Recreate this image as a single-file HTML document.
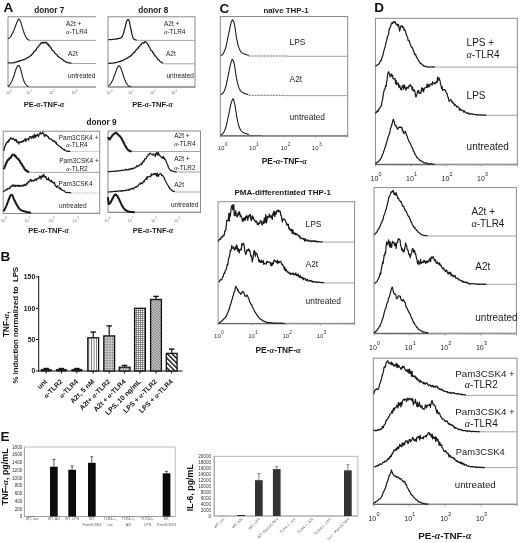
<!DOCTYPE html>
<html><head><meta charset="utf-8"><style>
html,body{margin:0;padding:0;background:#fff;}
svg{display:block;font-family:"Liberation Sans", sans-serif;filter:blur(0.35px);}
</style></head><body>
<svg width="520" height="543" viewBox="0 0 520 543">
<rect width="520" height="543" fill="#fff"/>
<text x="3.4" y="11.6" font-size="13.5" font-weight="bold" text-anchor="start" fill="#111" >A</text>
<text x="0.6" y="260.5" font-size="13.5" font-weight="bold" text-anchor="start" fill="#111" >B</text>
<text x="219.6" y="12.8" font-size="13.5" font-weight="bold" text-anchor="start" fill="#111" >C</text>
<text x="374.2" y="12.0" font-size="13.5" font-weight="bold" text-anchor="start" fill="#111" >D</text>
<text x="0.6" y="441.3" font-size="13.5" font-weight="bold" text-anchor="start" fill="#111" >E</text>
<text x="49.2" y="12.7" font-size="8.2" font-weight="bold" text-anchor="middle" fill="#1a1a1a" >donor 7</text>
<line x1="8.0" y1="16.8" x2="96.0" y2="16.8" stroke="#8a8a8a" stroke-width="1.1" />
<line x1="8.0" y1="16.8" x2="8.0" y2="87.0" stroke="#8a8a8a" stroke-width="1.0" />
<line x1="8.0" y1="87.0" x2="96.0" y2="87.0" stroke="#8a8a8a" stroke-width="1.2" />
<path d="M7.80,38.72 L8.30,38.57 L8.80,38.28 L9.30,37.99 L9.80,37.60 L10.30,36.96 L10.80,36.31 L11.30,35.69 L11.80,34.72 L12.30,33.78 L12.80,32.86 L13.30,31.67 L13.80,30.46 L14.30,29.09 L14.80,27.98 L15.30,26.80 L15.80,25.11 L16.30,24.00 L16.80,22.54 L17.30,21.58 L17.80,20.49 L18.30,19.95 L18.80,19.15 L19.30,19.44 L19.80,19.91 L20.30,20.91 L20.80,21.79 L21.30,23.84 L21.80,25.65 L22.30,27.46 L22.80,28.90 L23.30,30.66 L23.80,32.05 L24.30,33.45 L24.80,34.92 L25.30,35.85 L25.80,37.01 L26.30,37.96 L26.80,38.51 L27.30,38.99 L27.80,39.46 L28.30,39.78 L28.80,39.95 L29.30,40.08 L29.80,40.21 L30.30,40.17" fill="none" stroke="#1a1a1a" stroke-width="1.08" stroke-linejoin="round"/>
<line x1="30.6" y1="40.4" x2="96.0" y2="40.4" stroke="#999" stroke-width="0.9"/>
<path d="M7.80,62.80 L8.30,62.75 L8.80,62.71 L9.30,62.99 L9.80,62.91 L10.30,62.77 L10.80,62.91 L11.30,62.99 L11.80,62.95 L12.30,62.99 L12.80,62.85 L13.30,62.80 L13.80,62.77 L14.30,62.42 L14.80,62.40 L15.30,62.20 L15.80,62.16 L16.30,61.86 L16.80,61.80 L17.30,61.71 L17.80,61.71 L18.30,61.59 L18.80,61.03 L19.30,60.95 L19.80,61.04 L20.30,60.39 L20.80,60.51 L21.30,60.41 L21.80,60.51 L22.30,60.23 L22.80,59.84 L23.30,59.66 L23.80,59.51 L24.30,59.73 L24.80,59.12 L25.30,58.97 L25.80,58.92 L26.30,58.55 L26.80,58.23 L27.30,57.66 L27.80,57.62 L28.30,57.18 L28.80,57.30 L29.30,56.84 L29.80,56.31 L30.30,56.18 L30.80,55.46 L31.30,55.44 L31.80,54.60 L32.30,54.30 L32.80,53.15 L33.30,53.21 L33.80,51.90 L34.30,51.12 L34.80,51.10 L35.30,50.18 L35.80,49.94 L36.30,50.14 L36.80,48.17 L37.30,47.57 L37.80,47.27 L38.30,46.73 L38.80,45.77 L39.30,45.10 L39.80,44.88 L40.30,44.21 L40.80,43.01 L41.30,43.22 L41.80,43.10 L42.30,42.38 L42.80,42.89 L43.30,42.22 L43.80,43.07 L44.30,42.62 L44.80,42.53 L45.30,42.30 L45.80,42.81 L46.30,42.27 L46.80,43.09 L47.30,44.24 L47.80,43.49 L48.30,45.40 L48.80,44.68 L49.30,46.35 L49.80,46.16 L50.30,47.49 L50.80,47.85 L51.30,47.78 L51.80,49.61 L52.30,50.32 L52.80,50.35 L53.30,50.92 L53.80,51.62 L54.30,51.97 L54.80,53.36 L55.30,53.36 L55.80,54.06 L56.30,54.30 L56.80,54.85 L57.30,55.13 L57.80,56.40 L58.30,56.42 L58.80,57.15 L59.30,57.25 L59.80,57.43 L60.30,57.90 L60.80,58.21 L61.30,58.73 L61.80,59.02 L62.30,59.43 L62.80,59.59 L63.30,60.11 L63.80,60.97 L64.30,60.90 L64.80,61.16 L65.30,61.65 L65.80,62.05 L66.30,61.91 L66.80,62.33 L67.30,62.50 L67.80,62.55 L68.30,62.89 L68.80,62.89 L69.30,62.97 L69.80,62.98 L70.30,63.15 L70.80,63.15 L71.30,63.25 L71.80,63.23" fill="none" stroke="#1a1a1a" stroke-width="1.22" stroke-linejoin="round"/>
<line x1="72.2" y1="63.5" x2="96.0" y2="63.5" stroke="#999" stroke-width="0.9"/>
<path d="M7.80,86.34 L8.30,86.16 L8.80,85.73 L9.30,85.39 L9.80,84.80 L10.30,84.02 L10.80,83.05 L11.30,82.17 L11.80,81.12 L12.30,80.01 L12.80,78.78 L13.30,77.55 L13.80,76.16 L14.30,74.69 L14.80,72.99 L15.30,71.15 L15.80,69.80 L16.30,68.44 L16.80,67.18 L17.30,66.41 L17.80,65.78 L18.30,65.47 L18.80,65.58 L19.30,65.81 L19.80,67.07 L20.30,68.02 L20.80,69.99 L21.30,71.72 L21.80,73.68 L22.30,75.82 L22.80,77.66 L23.30,79.11 L23.80,80.55 L24.30,82.03 L24.80,82.94 L25.30,83.78 L25.80,84.49 L26.30,85.05 L26.80,85.57 L27.30,86.03 L27.80,86.24 L28.30,86.45 L28.80,86.60" fill="none" stroke="#1a1a1a" stroke-width="1.08" stroke-linejoin="round"/>
<line x1="29.1" y1="87.0" x2="96.0" y2="87.0" stroke="#999" stroke-width="0.9"/>
<text x="66.0" y="26.2" font-size="6.5" text-anchor="start" fill="#1a1a1a" >A2t +</text>
<text x="66.0" y="34.0" font-size="6.5" text-anchor="start" fill="#1a1a1a" ><tspan font-family="Liberation Serif" font-style="italic">&#945;</tspan>-TLR4</text>
<text x="68.0" y="55.8" font-size="6.5" text-anchor="start" fill="#1a1a1a" >A2t</text>
<text x="68.0" y="78.2" font-size="6.5" text-anchor="start" fill="#1a1a1a" >untreated</text>
<text x="8.2" y="94.0" font-size="3.8" fill="#777" text-anchor="middle">10</text>
<text x="10.5" y="91.6" font-size="2.8" fill="#777">0</text>
<text x="28.0" y="94.0" font-size="3.8" fill="#777" text-anchor="middle">10</text>
<text x="30.3" y="91.6" font-size="2.8" fill="#777">1</text>
<text x="51.0" y="94.0" font-size="3.8" fill="#777" text-anchor="middle">10</text>
<text x="53.3" y="91.6" font-size="2.8" fill="#777">2</text>
<text x="73.5" y="94.0" font-size="3.8" fill="#777" text-anchor="middle">10</text>
<text x="75.8" y="91.6" font-size="2.8" fill="#777">3</text>
<text x="44.0" y="107.3" font-size="7.5" font-weight="bold" text-anchor="middle" fill="#1a1a1a" >PE-<tspan font-family="Liberation Serif" font-style="italic">&#945;</tspan>-TNF-<tspan font-family="Liberation Serif" font-style="italic">&#945;</tspan></text>
<text x="153.2" y="12.7" font-size="8.2" font-weight="bold" text-anchor="middle" fill="#1a1a1a" >donor 8</text>
<rect x="108.0" y="16.8" width="87.0" height="70.2" fill="none" stroke="#8a8a8a" stroke-width="1.0" />
<line x1="108.0" y1="87.0" x2="195.0" y2="87.0" stroke="#8a8a8a" stroke-width="1.2" />
<path d="M108.30,39.53 L108.80,39.47 L109.30,39.59 L109.80,39.52 L110.30,39.46 L110.80,39.64 L111.30,39.59 L111.80,39.63 L112.30,39.47 L112.80,39.44 L113.30,39.31 L113.80,39.23 L114.30,39.25 L114.80,39.06 L115.30,39.10 L115.80,39.01 L116.30,39.12 L116.80,38.63 L117.30,38.82 L117.80,38.60 L118.30,38.52 L118.80,38.24 L119.30,38.28 L119.80,38.35 L120.30,38.09 L120.80,37.83 L121.30,37.35 L121.80,37.10 L122.30,36.40 L122.80,35.13 L123.30,34.21 L123.80,32.25 L124.30,29.94 L124.80,28.56 L125.30,26.82 L125.80,24.27 L126.30,22.09 L126.80,20.86 L127.30,20.48 L127.80,19.47 L128.30,19.44 L128.80,20.23 L129.30,21.64 L129.80,23.86 L130.30,26.17 L130.80,28.64 L131.30,30.86 L131.80,33.65 L132.30,35.33 L132.80,37.27 L133.30,38.12 L133.80,39.04 L134.30,39.47 L134.80,39.51 L135.30,39.89 L135.80,40.01 L136.30,40.02 L136.80,40.20" fill="none" stroke="#1a1a1a" stroke-width="1.22" stroke-linejoin="round"/>
<line x1="136.8" y1="40.4" x2="195.0" y2="40.4" stroke="#999" stroke-width="0.9"/>
<path d="M108.30,63.51 L108.80,63.25 L109.30,63.43 L109.80,63.36 L110.30,63.32 L110.80,63.18 L111.30,63.20 L111.80,63.16 L112.30,63.24 L112.80,63.11 L113.30,63.03 L113.80,63.11 L114.30,62.80 L114.80,62.69 L115.30,62.40 L115.80,62.70 L116.30,62.51 L116.80,62.38 L117.30,62.23 L117.80,62.04 L118.30,61.92 L118.80,61.70 L119.30,61.54 L119.80,61.42 L120.30,61.52 L120.80,61.19 L121.30,60.91 L121.80,60.65 L122.30,60.47 L122.80,60.74 L123.30,60.30 L123.80,59.96 L124.30,59.62 L124.80,59.19 L125.30,59.18 L125.80,59.16 L126.30,58.60 L126.80,58.39 L127.30,58.12 L127.80,57.90 L128.30,57.08 L128.80,57.10 L129.30,56.56 L129.80,56.71 L130.30,55.85 L130.80,55.91 L131.30,55.81 L131.80,54.74 L132.30,54.11 L132.80,53.83 L133.30,53.22 L133.80,52.30 L134.30,52.30 L134.80,52.39 L135.30,51.00 L135.80,50.52 L136.30,49.67 L136.80,49.68 L137.30,48.39 L137.80,47.77 L138.30,48.15 L138.80,46.50 L139.30,46.74 L139.80,46.31 L140.30,45.06 L140.80,44.55 L141.30,44.73 L141.80,43.29 L142.30,42.89 L142.80,42.33 L143.30,42.85 L143.80,43.38 L144.30,42.87 L144.80,41.66 L145.30,41.65 L145.80,41.94 L146.30,42.60 L146.80,42.79 L147.30,43.63 L147.80,44.50 L148.30,45.04 L148.80,45.99 L149.30,46.94 L149.80,47.65 L150.30,48.75 L150.80,50.17 L151.30,50.44 L151.80,51.01 L152.30,51.09 L152.80,52.62 L153.30,52.52 L153.80,53.47 L154.30,54.97 L154.80,55.59 L155.30,55.97 L155.80,56.14 L156.30,57.18 L156.80,57.73 L157.30,58.68 L157.80,59.62 L158.30,59.65 L158.80,59.93 L159.30,60.37 L159.80,61.09 L160.30,61.54 L160.80,61.79 L161.30,62.30 L161.80,62.42 L162.30,62.95 L162.80,63.20 L163.30,63.38" fill="none" stroke="#1a1a1a" stroke-width="1.22" stroke-linejoin="round"/>
<line x1="163.7" y1="63.8" x2="195.0" y2="63.8" stroke="#999" stroke-width="0.9"/>
<path d="M108.30,85.67 L108.80,85.47 L109.30,85.10 L109.80,84.74 L110.30,84.30 L110.80,83.59 L111.30,82.71 L111.80,81.86 L112.30,80.78 L112.80,79.73 L113.30,78.61 L113.80,77.04 L114.30,75.80 L114.80,74.57 L115.30,73.24 L115.80,71.75 L116.30,70.51 L116.80,69.05 L117.30,67.70 L117.80,66.75 L118.30,66.29 L118.80,65.93 L119.30,65.66 L119.80,66.51 L120.30,67.13 L120.80,68.30 L121.30,69.42 L121.80,70.80 L122.30,72.13 L122.80,74.05 L123.30,75.29 L123.80,77.00 L124.30,78.22 L124.80,79.65 L125.30,80.78 L125.80,82.04 L126.30,83.09 L126.80,83.71 L127.30,84.51 L127.80,85.14 L128.30,85.59 L128.80,85.95 L129.30,86.11 L129.80,86.28 L130.30,86.43 L130.80,86.59 L131.30,86.71" fill="none" stroke="#1a1a1a" stroke-width="1.08" stroke-linejoin="round"/>
<line x1="131.4" y1="87.0" x2="195.0" y2="87.0" stroke="#999" stroke-width="0.9"/>
<text x="164.0" y="26.2" font-size="6.5" text-anchor="start" fill="#1a1a1a" >A2t +</text>
<text x="164.0" y="34.0" font-size="6.5" text-anchor="start" fill="#1a1a1a" ><tspan font-family="Liberation Serif" font-style="italic">&#945;</tspan>-TLR4</text>
<text x="166.0" y="55.8" font-size="6.5" text-anchor="start" fill="#1a1a1a" >A2t</text>
<text x="166.5" y="78.2" font-size="6.5" text-anchor="start" fill="#1a1a1a" >untreated</text>
<text x="108.6" y="94.0" font-size="3.8" fill="#777" text-anchor="middle">10</text>
<text x="110.9" y="91.6" font-size="2.8" fill="#777">0</text>
<text x="130.0" y="94.0" font-size="3.8" fill="#777" text-anchor="middle">10</text>
<text x="132.3" y="91.6" font-size="2.8" fill="#777">1</text>
<text x="152.0" y="94.0" font-size="3.8" fill="#777" text-anchor="middle">10</text>
<text x="154.3" y="91.6" font-size="2.8" fill="#777">2</text>
<text x="173.0" y="94.0" font-size="3.8" fill="#777" text-anchor="middle">10</text>
<text x="175.3" y="91.6" font-size="2.8" fill="#777">3</text>
<text x="152.5" y="107.3" font-size="7.5" font-weight="bold" text-anchor="middle" fill="#1a1a1a" >PE-<tspan font-family="Liberation Serif" font-style="italic">&#945;</tspan>-TNF-<tspan font-family="Liberation Serif" font-style="italic">&#945;</tspan></text>
<text x="101.5" y="124.5" font-size="8.2" font-weight="bold" text-anchor="middle" fill="#1a1a1a" >donor 9</text>
<rect x="3.2" y="131.2" width="96.5" height="82.3" fill="none" stroke="#8a8a8a" stroke-width="1.0" />
<line x1="3.2" y1="213.5" x2="99.7" y2="213.5" stroke="#8a8a8a" stroke-width="1.2" />
<path d="M3.80,150.82 L4.30,148.21 L4.80,146.47 L5.30,146.18 L5.80,143.77 L6.30,143.92 L6.80,142.65 L7.30,141.71 L7.80,142.46 L8.30,140.69 L8.80,141.70 L9.30,139.23 L9.80,139.74 L10.30,138.70 L10.80,137.71 L11.30,138.61 L11.80,138.25 L12.30,139.26 L12.80,139.00 L13.30,138.41 L13.80,139.52 L14.30,139.82 L14.80,140.78 L15.30,139.35 L15.80,140.27 L16.30,139.53 L16.80,142.11 L17.30,141.40 L17.80,141.54 L18.30,143.32 L18.80,144.00 L19.30,141.89 L19.80,142.03 L20.30,142.11 L20.80,141.59 L21.30,142.49 L21.80,141.32 L22.30,141.13 L22.80,141.92 L23.30,140.59 L23.80,141.30 L24.30,139.88 L24.80,139.41 L25.30,138.61 L25.80,141.52 L26.30,139.38 L26.80,139.62 L27.30,139.13 L27.80,139.06 L28.30,138.72 L28.80,140.18 L29.30,137.23 L29.80,136.53 L30.30,136.90 L30.80,136.46 L31.30,138.29 L31.80,138.24 L32.30,136.41 L32.80,135.87 L33.30,136.71 L33.80,138.24 L34.30,134.00 L34.80,137.11 L35.30,135.37 L35.80,137.28 L36.30,135.01 L36.80,135.62 L37.30,134.22 L37.80,134.52 L38.30,136.68 L38.80,135.87 L39.30,134.37 L39.80,133.63 L40.30,132.31 L40.80,133.68 L41.30,133.89 L41.80,133.66 L42.30,133.47 L42.80,132.19 L43.30,133.66 L43.80,134.01 L44.30,135.73 L44.80,136.64 L45.30,134.90 L45.80,134.61 L46.30,135.67 L46.80,135.48 L47.30,135.70 L47.80,136.84 L48.30,136.41 L48.80,138.47 L49.30,138.30 L49.80,139.09 L50.30,139.03 L50.80,138.88 L51.30,139.02 L51.80,139.97 L52.30,140.04 L52.80,141.02 L53.30,141.14 L53.80,140.38 L54.30,141.85 L54.80,141.27 L55.30,142.34 L55.80,143.09 L56.30,142.34 L56.80,144.36 L57.30,144.90 L57.80,145.10 L58.30,145.31 L58.80,145.72 L59.30,145.75 L59.80,146.53 L60.30,146.76 L60.80,147.48 L61.30,147.23 L61.80,148.30 L62.30,148.64 L62.80,148.91 L63.30,149.18 L63.80,149.84 L64.30,149.38 L64.80,150.31 L65.30,150.49 L65.80,150.75 L66.30,151.02 L66.80,151.00 L67.30,151.13 L67.80,151.34 L68.30,151.35 L68.80,151.36 L69.30,151.11 L69.80,151.50 L70.30,151.50" fill="none" stroke="#1a1a1a" stroke-width="1.22" stroke-linejoin="round"/>
<line x1="70.5" y1="151.5" x2="99.7" y2="151.5" stroke="#999" stroke-width="0.9" stroke-dasharray="1,1"/>
<path d="M3.80,169.22 L4.30,168.09 L4.80,166.22 L5.30,165.67 L5.80,164.25 L6.30,162.45 L6.80,162.43 L7.30,160.84 L7.80,160.09 L8.30,159.64 L8.80,159.72 L9.30,158.40 L9.80,158.06 L10.30,158.15 L10.80,157.59 L11.30,156.35 L11.80,155.79 L12.30,154.82 L12.80,154.58 L13.30,154.79 L13.80,154.80 L14.30,155.00 L14.80,155.88 L15.30,155.56 L15.80,156.38 L16.30,157.22 L16.80,157.65 L17.30,158.40 L17.80,158.71 L18.30,159.09 L18.80,160.03 L19.30,160.19 L19.80,160.70 L20.30,162.30 L20.80,162.90 L21.30,163.84 L21.80,164.05 L22.30,165.30 L22.80,166.09 L23.30,166.88 L23.80,167.43 L24.30,168.61 L24.80,169.47 L25.30,169.87 L25.80,170.20 L26.30,170.75 L26.80,171.20 L27.30,171.04 L27.80,171.51 L28.30,171.75 L28.80,171.94 L29.30,172.13" fill="none" stroke="#1a1a1a" stroke-width="2.03" stroke-linejoin="round"/>
<line x1="29.7" y1="172.4" x2="99.7" y2="172.4" stroke="#999" stroke-width="0.9"/>
<path d="M3.50,191.85 L4.00,191.24 L4.50,190.87 L5.00,190.71 L5.50,189.78 L6.00,189.63 L6.50,189.72 L7.00,190.00 L7.50,188.68 L8.00,188.50 L8.50,188.39 L9.00,188.80 L9.50,187.78 L10.00,188.28 L10.50,186.30 L11.00,186.28 L11.50,185.77 L12.00,185.95 L12.50,186.29 L13.00,184.72 L13.50,185.31 L14.00,186.32 L14.50,185.71 L15.00,185.00 L15.50,186.59 L16.00,186.10 L16.50,185.97 L17.00,185.17 L17.50,186.14 L18.00,185.39 L18.50,186.43 L19.00,185.19 L19.50,185.37 L20.00,186.21 L20.50,185.74 L21.00,186.52 L21.50,186.11 L22.00,185.17 L22.50,185.72 L23.00,185.29 L23.50,186.04 L24.00,184.60 L24.50,184.38 L25.00,185.26 L25.50,185.71 L26.00,185.22 L26.50,183.41 L27.00,183.22 L27.50,183.98 L28.00,182.32 L28.50,181.29 L29.00,181.88 L29.50,181.84 L30.00,180.40 L30.50,179.35 L31.00,179.53 L31.50,181.39 L32.00,180.13 L32.50,180.68 L33.00,180.92 L33.50,181.11 L34.00,180.08 L34.50,180.66 L35.00,179.22 L35.50,179.53 L36.00,178.74 L36.50,180.56 L37.00,179.31 L37.50,178.43 L38.00,178.42 L38.50,178.17 L39.00,178.70 L39.50,176.06 L40.00,176.23 L40.50,176.52 L41.00,179.12 L41.50,177.13 L42.00,175.63 L42.50,176.12 L43.00,177.19 L43.50,174.35 L44.00,174.71 L44.50,176.88 L45.00,176.61 L45.50,177.29 L46.00,176.58 L46.50,179.48 L47.00,179.72 L47.50,179.07 L48.00,179.66 L48.50,177.54 L49.00,180.40 L49.50,180.02 L50.00,180.97 L50.50,181.56 L51.00,181.05 L51.50,180.29 L52.00,182.40 L52.50,181.86 L53.00,182.57 L53.50,182.73 L54.00,183.31 L54.50,182.25 L55.00,185.40 L55.50,185.18 L56.00,186.27 L56.50,187.33 L57.00,186.51 L57.50,185.85 L58.00,186.81 L58.50,187.01 L59.00,187.81 L59.50,188.50 L60.00,187.79 L60.50,189.37 L61.00,188.75 L61.50,189.87 L62.00,189.95 L62.50,190.14 L63.00,190.50 L63.50,190.60 L64.00,190.83 L64.50,190.73 L65.00,191.52 L65.50,192.29 L66.00,192.51 L66.50,192.54 L67.00,192.50 L67.50,192.29 L68.00,192.75 L68.50,192.54 L69.00,192.60 L69.50,192.63 L70.00,192.76 L70.50,192.73 L71.00,192.86" fill="none" stroke="#1a1a1a" stroke-width="1.22" stroke-linejoin="round"/>
<line x1="71.2" y1="193.0" x2="99.7" y2="193.0" stroke="#999" stroke-width="0.9" stroke-dasharray="1,1"/>
<path d="M3.50,211.11 L4.00,210.53 L4.50,209.83 L5.00,208.65 L5.50,207.64 L6.00,206.70 L6.50,205.59 L7.00,204.06 L7.50,202.78 L8.00,201.55 L8.50,200.08 L9.00,198.74 L9.50,197.80 L10.00,196.31 L10.50,195.53 L11.00,194.83 L11.50,195.15 L12.00,194.86 L12.50,195.80 L13.00,196.74 L13.50,198.10 L14.00,199.31 L14.50,200.58 L15.00,201.14 L15.50,202.52 L16.00,203.36 L16.50,204.27 L17.00,205.34 L17.50,206.01 L18.00,206.73 L18.50,207.75 L19.00,208.29 L19.50,208.88 L20.00,209.35 L20.50,209.71 L21.00,210.19 L21.50,210.41 L22.00,210.61 L22.50,210.88 L23.00,211.00 L23.50,211.11 L24.00,211.35 L24.50,211.42 L25.00,211.47 L25.50,211.76 L26.00,211.82 L26.50,211.95 L27.00,212.03 L27.50,212.15 L28.00,212.21 L28.50,212.36 L29.00,212.41 L29.50,212.50 L30.00,212.59 L30.50,212.62 L31.00,212.73" fill="none" stroke="#1a1a1a" stroke-width="2.03" stroke-linejoin="round"/>
<line x1="31.2" y1="213.2" x2="99.7" y2="213.2" stroke="#999" stroke-width="0.9"/>
<text x="78.5" y="139.6" font-size="6.5" text-anchor="middle" fill="#1a1a1a" >Pam3CSK4 +</text>
<text x="77.0" y="147.0" font-size="6.5" text-anchor="middle" fill="#1a1a1a" ><tspan font-family="Liberation Serif" font-style="italic">&#945;</tspan>-TLR4</text>
<text x="79.0" y="162.6" font-size="6.5" text-anchor="middle" fill="#1a1a1a" >Pam3CSK4 +</text>
<text x="77.0" y="170.7" font-size="6.5" text-anchor="middle" fill="#1a1a1a" ><tspan font-family="Liberation Serif" font-style="italic">&#945;</tspan>-TLR2</text>
<text x="58.6" y="186.1" font-size="6.5" text-anchor="start" fill="#1a1a1a" >Pam3CSK4</text>
<text x="59.1" y="207.7" font-size="6.5" text-anchor="start" fill="#1a1a1a" >untreated</text>
<text x="3.0" y="221.8" font-size="3.8" fill="#777" text-anchor="middle">10</text>
<text x="5.3" y="219.4" font-size="2.8" fill="#777">0</text>
<text x="26.5" y="221.8" font-size="3.8" fill="#777" text-anchor="middle">10</text>
<text x="28.8" y="219.4" font-size="2.8" fill="#777">1</text>
<text x="50.8" y="221.8" font-size="3.8" fill="#777" text-anchor="middle">10</text>
<text x="53.1" y="219.4" font-size="2.8" fill="#777">2</text>
<text x="74.7" y="221.8" font-size="3.8" fill="#777" text-anchor="middle">10</text>
<text x="77.0" y="219.4" font-size="2.8" fill="#777">3</text>
<text x="48.5" y="233.0" font-size="7.5" font-weight="bold" text-anchor="middle" fill="#1a1a1a" >PE-<tspan font-family="Liberation Serif" font-style="italic">&#945;</tspan>-TNF-<tspan font-family="Liberation Serif" font-style="italic">&#945;</tspan></text>
<rect x="108.0" y="131.0" width="92.5" height="81.4" fill="none" stroke="#8a8a8a" stroke-width="1.0" />
<line x1="108.0" y1="212.4" x2="200.5" y2="212.4" stroke="#8a8a8a" stroke-width="1.2" />
<path d="M107.80,137.45 L108.30,138.04 L108.80,138.27 L109.30,139.27 L109.80,139.52 L110.30,138.50 L110.80,137.62 L111.30,137.07 L111.80,136.32 L112.30,135.46 L112.80,135.12 L113.30,134.47 L113.80,134.21 L114.30,133.45 L114.80,133.23 L115.30,133.17 L115.80,133.24 L116.30,132.69 L116.80,133.31 L117.30,133.73 L117.80,134.55 L118.30,134.68 L118.80,135.31 L119.30,135.89 L119.80,136.22 L120.30,136.73 L120.80,137.45 L121.30,138.03 L121.80,138.99 L122.30,140.02 L122.80,140.95 L123.30,141.87 L123.80,142.65 L124.30,143.84 L124.80,145.00 L125.30,145.93 L125.80,146.68 L126.30,147.43 L126.80,148.40 L127.30,149.13 L127.80,149.63 L128.30,150.01 L128.80,150.48 L129.30,150.76 L129.80,151.14 L130.30,151.15 L130.80,151.26 L131.30,151.27 L131.80,151.34" fill="none" stroke="#1a1a1a" stroke-width="2.03" stroke-linejoin="round"/>
<line x1="132.2" y1="151.5" x2="200.5" y2="151.5" stroke="#999" stroke-width="0.9"/>
<path d="M107.80,172.00 L108.30,171.86 L108.80,171.64 L109.30,171.65 L109.80,171.65 L110.30,171.73 L110.80,171.45 L111.30,171.23 L111.80,171.38 L112.30,171.38 L112.80,171.34 L113.30,171.49 L113.80,171.29 L114.30,171.32 L114.80,170.94 L115.30,171.25 L115.80,171.43 L116.30,171.13 L116.80,170.98 L117.30,170.91 L117.80,171.20 L118.30,170.58 L118.80,170.70 L119.30,170.77 L119.80,170.79 L120.30,170.47 L120.80,170.59 L121.30,170.40 L121.80,170.44 L122.30,170.33 L122.80,170.03 L123.30,170.22 L123.80,170.37 L124.30,169.80 L124.80,169.90 L125.30,170.06 L125.80,169.48 L126.30,169.75 L126.80,169.30 L127.30,169.86 L127.80,170.13 L128.30,169.97 L128.80,169.18 L129.30,169.39 L129.80,169.08 L130.30,168.97 L130.80,169.35 L131.30,168.26 L131.80,168.97 L132.30,168.47 L132.80,168.89 L133.30,168.34 L133.80,167.91 L134.30,168.15 L134.80,168.10 L135.30,167.53 L135.80,167.42 L136.30,166.69 L136.80,165.67 L137.30,166.71 L137.80,166.33 L138.30,165.77 L138.80,165.49 L139.30,165.73 L139.80,164.74 L140.30,164.37 L140.80,164.39 L141.30,164.88 L141.80,162.90 L142.30,163.67 L142.80,161.94 L143.30,160.97 L143.80,161.76 L144.30,160.23 L144.80,158.75 L145.30,158.70 L145.80,158.92 L146.30,158.40 L146.80,156.46 L147.30,156.31 L147.80,155.97 L148.30,154.44 L148.80,154.76 L149.30,154.07 L149.80,153.39 L150.30,153.16 L150.80,153.64 L151.30,154.08 L151.80,154.08 L152.30,154.46 L152.80,155.19 L153.30,153.97 L153.80,154.22 L154.30,154.97 L154.80,154.97 L155.30,156.55 L155.80,153.37 L156.30,153.98 L156.80,152.33 L157.30,154.66 L157.80,155.05 L158.30,152.64 L158.80,153.66 L159.30,155.19 L159.80,155.52 L160.30,156.18 L160.80,156.28 L161.30,157.39 L161.80,157.81 L162.30,157.46 L162.80,158.42 L163.30,156.25 L163.80,158.55 L164.30,157.88 L164.80,159.75 L165.30,159.59 L165.80,160.40 L166.30,162.40 L166.80,162.89 L167.30,164.20 L167.80,165.20 L168.30,167.19 L168.80,168.07 L169.30,168.91 L169.80,169.18 L170.30,170.18 L170.80,170.38 L171.30,170.55 L171.80,170.89 L172.30,171.16 L172.80,171.09 L173.30,171.31 L173.80,171.49 L174.30,171.59 L174.80,171.52 L175.30,171.84 L175.80,171.72 L176.30,171.90 L176.80,171.79" fill="none" stroke="#1a1a1a" stroke-width="1.22" stroke-linejoin="round"/>
<line x1="176.8" y1="172.0" x2="200.5" y2="172.0" stroke="#999" stroke-width="0.9"/>
<path d="M107.80,192.00 L108.30,192.00 L108.80,191.88 L109.30,192.00 L109.80,191.91 L110.30,192.00 L110.80,191.93 L111.30,191.67 L111.80,191.68 L112.30,191.75 L112.80,191.67 L113.30,191.64 L113.80,191.56 L114.30,191.32 L114.80,191.50 L115.30,191.19 L115.80,191.50 L116.30,191.29 L116.80,191.25 L117.30,191.27 L117.80,191.31 L118.30,190.98 L118.80,190.87 L119.30,190.94 L119.80,190.71 L120.30,190.86 L120.80,191.29 L121.30,190.74 L121.80,191.03 L122.30,190.58 L122.80,190.87 L123.30,190.66 L123.80,190.63 L124.30,190.68 L124.80,190.88 L125.30,190.42 L125.80,190.32 L126.30,189.95 L126.80,190.26 L127.30,189.95 L127.80,190.16 L128.30,189.83 L128.80,190.25 L129.30,189.06 L129.80,189.38 L130.30,189.58 L130.80,189.03 L131.30,188.72 L131.80,188.73 L132.30,188.18 L132.80,188.54 L133.30,189.22 L133.80,188.57 L134.30,187.46 L134.80,187.27 L135.30,187.19 L135.80,187.52 L136.30,186.48 L136.80,186.26 L137.30,186.71 L137.80,186.37 L138.30,185.40 L138.80,184.64 L139.30,184.02 L139.80,184.05 L140.30,182.84 L140.80,184.06 L141.30,182.93 L141.80,183.19 L142.30,183.63 L142.80,182.87 L143.30,181.10 L143.80,181.94 L144.30,181.65 L144.80,179.95 L145.30,179.32 L145.80,179.39 L146.30,177.89 L146.80,179.53 L147.30,176.42 L147.80,176.94 L148.30,177.15 L148.80,176.80 L149.30,176.71 L149.80,176.40 L150.30,175.78 L150.80,176.56 L151.30,173.77 L151.80,175.17 L152.30,174.35 L152.80,174.76 L153.30,174.64 L153.80,173.56 L154.30,173.60 L154.80,174.58 L155.30,174.11 L155.80,173.41 L156.30,175.72 L156.80,176.06 L157.30,173.18 L157.80,174.71 L158.30,176.59 L158.80,175.05 L159.30,174.43 L159.80,173.91 L160.30,173.47 L160.80,173.84 L161.30,174.09 L161.80,175.63 L162.30,175.27 L162.80,175.76 L163.30,175.97 L163.80,177.65 L164.30,177.89 L164.80,179.22 L165.30,180.88 L165.80,181.43 L166.30,182.50 L166.80,183.40 L167.30,184.23 L167.80,185.05 L168.30,185.81 L168.80,187.13 L169.30,187.22 L169.80,188.98 L170.30,188.99 L170.80,189.23 L171.30,189.80 L171.80,190.26 L172.30,190.87 L172.80,190.89 L173.30,191.40 L173.80,191.27 L174.30,191.27 L174.80,191.66" fill="none" stroke="#1a1a1a" stroke-width="1.22" stroke-linejoin="round"/>
<line x1="175.2" y1="192.0" x2="200.5" y2="192.0" stroke="#999" stroke-width="0.9"/>
<path d="M107.80,197.25 L108.30,200.75 L108.80,204.10 L109.30,203.85 L109.80,203.46 L110.30,202.85 L110.80,202.14 L111.30,201.03 L111.80,200.00 L112.30,199.12 L112.80,198.29 L113.30,197.16 L113.80,196.09 L114.30,195.49 L114.80,194.89 L115.30,194.30 L115.80,194.66 L116.30,195.22 L116.80,195.50 L117.30,196.03 L117.80,196.81 L118.30,198.08 L118.80,198.70 L119.30,199.79 L119.80,200.78 L120.30,201.97 L120.80,203.15 L121.30,204.13 L121.80,205.23 L122.30,206.20 L122.80,206.89 L123.30,207.63 L123.80,208.23 L124.30,208.80 L124.80,209.47 L125.30,210.05 L125.80,210.30 L126.30,210.48 L126.80,210.73 L127.30,210.90 L127.80,211.16 L128.30,211.48 L128.80,211.60 L129.30,211.81 L129.80,211.86 L130.30,211.89 L130.80,211.92 L131.30,211.98 L131.80,212.02 L132.30,212.06 L132.80,212.06 L133.30,212.14 L133.80,212.17 L134.30,212.21 L134.80,212.27" fill="none" stroke="#1a1a1a" stroke-width="2.03" stroke-linejoin="round"/>
<line x1="135.2" y1="212.4" x2="200.5" y2="212.4" stroke="#999" stroke-width="0.9"/>
<text x="174.2" y="137.6" font-size="6.5" text-anchor="start" fill="#1a1a1a" >A2t +</text>
<text x="174.2" y="146.2" font-size="6.5" text-anchor="start" fill="#1a1a1a" ><tspan font-family="Liberation Serif" font-style="italic">&#945;</tspan>-TLR4</text>
<text x="174.2" y="161.3" font-size="6.5" text-anchor="start" fill="#1a1a1a" >A2t +</text>
<text x="174.2" y="169.9" font-size="6.5" text-anchor="start" fill="#1a1a1a" ><tspan font-family="Liberation Serif" font-style="italic">&#945;</tspan>-TLR2</text>
<text x="174.2" y="186.5" font-size="6.5" text-anchor="start" fill="#1a1a1a" >A2t</text>
<text x="171.0" y="207.3" font-size="6.5" text-anchor="start" fill="#1a1a1a" >untreated</text>
<text x="106.4" y="221.8" font-size="3.8" fill="#777" text-anchor="middle">10</text>
<text x="108.7" y="219.4" font-size="2.8" fill="#777">0</text>
<text x="129.7" y="221.8" font-size="3.8" fill="#777" text-anchor="middle">10</text>
<text x="132.0" y="219.4" font-size="2.8" fill="#777">1</text>
<text x="153.0" y="221.8" font-size="3.8" fill="#777" text-anchor="middle">10</text>
<text x="155.3" y="219.4" font-size="2.8" fill="#777">2</text>
<text x="176.2" y="221.8" font-size="3.8" fill="#777" text-anchor="middle">10</text>
<text x="178.5" y="219.4" font-size="2.8" fill="#777">3</text>
<text x="153.0" y="233.0" font-size="7.5" font-weight="bold" text-anchor="middle" fill="#1a1a1a" >PE-<tspan font-family="Liberation Serif" font-style="italic">&#945;</tspan>-TNF-<tspan font-family="Liberation Serif" font-style="italic">&#945;</tspan></text>
<line x1="38.7" y1="276.0" x2="38.7" y2="371.5" stroke="#111" stroke-width="1.0" />
<line x1="38.7" y1="371.0" x2="182.5" y2="371.0" stroke="#111" stroke-width="1.0" />
<line x1="35.8" y1="371.0" x2="38.7" y2="371.0" stroke="#111" stroke-width="1.0" />
<text x="35.2" y="373.4" font-size="6.8" font-weight="bold" text-anchor="end" fill="#111" >0</text>
<line x1="35.8" y1="339.6" x2="38.7" y2="339.6" stroke="#111" stroke-width="1.0" />
<text x="35.2" y="342.0" font-size="6.8" font-weight="bold" text-anchor="end" fill="#111" >50</text>
<line x1="35.8" y1="308.3" x2="38.7" y2="308.3" stroke="#111" stroke-width="1.0" />
<text x="35.2" y="310.7" font-size="6.8" font-weight="bold" text-anchor="end" fill="#111" >100</text>
<line x1="35.8" y1="276.9" x2="38.7" y2="276.9" stroke="#111" stroke-width="1.0" />
<text x="35.2" y="279.3" font-size="6.8" font-weight="bold" text-anchor="end" fill="#111" >150</text>
<text x="0.0" y="0.0" font-size="8.2" font-weight="bold" text-anchor="middle" fill="#111" transform="translate(8.8,324.2) rotate(-90)">TNF-<tspan font-family="Liberation Serif" font-style="italic">&#945;</tspan>,</text>
<text x="0.0" y="0.0" font-size="7.8" font-weight="bold" text-anchor="middle" fill="#111" transform="translate(17.7,325.2) rotate(-90)">% induction normalized to&#160; LPS</text>
<defs>
<pattern id="pv" width="2.6" height="4" patternUnits="userSpaceOnUse"><rect width="2.6" height="4" fill="#fff"/><rect x="0" width="0.8" height="4" fill="#666"/></pattern>
<pattern id="pd" width="1.6" height="1.6" patternUnits="userSpaceOnUse"><rect width="1.6" height="1.6" fill="#ccc"/><rect width="0.8" height="0.8" fill="#666"/></pattern>
<pattern id="pg" width="2" height="2" patternUnits="userSpaceOnUse"><rect width="2" height="2" fill="#fff"/><rect width="2" height="0.55" fill="#444"/><rect width="0.55" height="2" fill="#444"/></pattern>
<pattern id="pc" width="1.6" height="1.6" patternUnits="userSpaceOnUse"><rect width="1.6" height="1.6" fill="#e8e8e8"/><rect width="0.8" height="0.8" fill="#6a6a6a"/><rect x="0.8" y="0.8" width="0.8" height="0.8" fill="#6a6a6a"/></pattern>
<pattern id="ps" width="3.4" height="3.4" patternUnits="userSpaceOnUse" patternTransform="rotate(-45)"><rect width="3.4" height="3.4" fill="#fff"/><rect width="1.4" height="3.4" fill="#111"/></pattern>
</defs>
<line x1="46.2" y1="369.4" x2="46.2" y2="368.5" stroke="#111" stroke-width="1.2" />
<line x1="43.5" y1="368.5" x2="48.9" y2="368.5" stroke="#111" stroke-width="1.4" />
<rect x="40.8" y="369.4" width="10.8" height="1.6" fill="#222" stroke="#111" stroke-width="1" rx="1"/>
<line x1="46.2" y1="371.0" x2="46.2" y2="373.5" stroke="#111" stroke-width="1.0" />
<line x1="61.4" y1="369.4" x2="61.4" y2="368.5" stroke="#111" stroke-width="1.2" />
<line x1="58.7" y1="368.5" x2="64.1" y2="368.5" stroke="#111" stroke-width="1.4" />
<rect x="56.0" y="369.4" width="10.8" height="1.6" fill="#222" stroke="#111" stroke-width="1" rx="1"/>
<line x1="61.4" y1="371.0" x2="61.4" y2="373.5" stroke="#111" stroke-width="1.0" />
<line x1="76.9" y1="369.4" x2="76.9" y2="368.5" stroke="#111" stroke-width="1.2" />
<line x1="74.2" y1="368.5" x2="79.6" y2="368.5" stroke="#111" stroke-width="1.4" />
<rect x="71.5" y="369.4" width="10.8" height="1.6" fill="#222" stroke="#111" stroke-width="1" rx="1"/>
<line x1="76.9" y1="371.0" x2="76.9" y2="373.5" stroke="#111" stroke-width="1.0" />
<line x1="93.2" y1="337.8" x2="93.2" y2="332.1" stroke="#111" stroke-width="1.2" />
<line x1="90.5" y1="332.1" x2="95.9" y2="332.1" stroke="#111" stroke-width="1.4" />
<rect x="87.8" y="337.8" width="10.8" height="33.2" fill="url(#pv)" stroke="#111" stroke-width="1.3" />
<line x1="93.2" y1="371.0" x2="93.2" y2="373.5" stroke="#111" stroke-width="1.0" />
<line x1="109.2" y1="335.9" x2="109.2" y2="325.9" stroke="#111" stroke-width="1.2" />
<line x1="106.5" y1="325.9" x2="111.9" y2="325.9" stroke="#111" stroke-width="1.4" />
<rect x="103.8" y="335.9" width="10.8" height="35.1" fill="url(#pd)" stroke="#111" stroke-width="1.3" />
<line x1="109.2" y1="371.0" x2="109.2" y2="373.5" stroke="#111" stroke-width="1.0" />
<line x1="124.6" y1="367.2" x2="124.6" y2="365.4" stroke="#111" stroke-width="1.2" />
<line x1="121.9" y1="365.4" x2="127.3" y2="365.4" stroke="#111" stroke-width="1.4" />
<rect x="119.2" y="367.2" width="10.8" height="3.8" fill="url(#pd)" stroke="#111" stroke-width="1.3" />
<line x1="124.6" y1="371.0" x2="124.6" y2="373.5" stroke="#111" stroke-width="1.0" />
<rect x="134.6" y="308.3" width="10.8" height="62.7" fill="url(#pg)" stroke="#111" stroke-width="1.3" />
<line x1="140.0" y1="371.0" x2="140.0" y2="373.5" stroke="#111" stroke-width="1.0" />
<line x1="156.0" y1="299.5" x2="156.0" y2="296.4" stroke="#111" stroke-width="1.2" />
<line x1="153.3" y1="296.4" x2="158.7" y2="296.4" stroke="#111" stroke-width="1.4" />
<rect x="150.6" y="299.5" width="10.8" height="71.5" fill="url(#pc)" stroke="#111" stroke-width="1.3" />
<line x1="156.0" y1="371.0" x2="156.0" y2="373.5" stroke="#111" stroke-width="1.0" />
<line x1="171.7" y1="353.4" x2="171.7" y2="349.1" stroke="#111" stroke-width="1.2" />
<line x1="169.0" y1="349.1" x2="174.4" y2="349.1" stroke="#111" stroke-width="1.4" />
<rect x="166.3" y="353.4" width="10.8" height="17.6" fill="url(#ps)" stroke="#111" stroke-width="1.3" />
<line x1="171.7" y1="371.0" x2="171.7" y2="373.5" stroke="#111" stroke-width="1.0" />
<text x="0.0" y="0.0" font-size="6.9" font-weight="bold" text-anchor="end" fill="#111" transform="translate(47.7,382.0) rotate(-45)">unt</text>
<text x="0.0" y="0.0" font-size="6.9" font-weight="bold" text-anchor="end" fill="#111" transform="translate(62.9,382.0) rotate(-45)"><tspan font-family="Liberation Serif" font-style="italic">&#945;</tspan>-TLR2</text>
<text x="0.0" y="0.0" font-size="6.9" font-weight="bold" text-anchor="end" fill="#111" transform="translate(78.4,382.0) rotate(-45)"><tspan font-family="Liberation Serif" font-style="italic">&#945;</tspan>-TLR4</text>
<text x="0.0" y="0.0" font-size="6.9" font-weight="bold" text-anchor="end" fill="#111" transform="translate(94.7,382.0) rotate(-45)">A2t, 5 nM</text>
<text x="0.0" y="0.0" font-size="6.9" font-weight="bold" text-anchor="end" fill="#111" transform="translate(110.7,382.0) rotate(-45)">A2t+ <tspan font-family="Liberation Serif" font-style="italic">&#945;</tspan>-TLR2</text>
<text x="0.0" y="0.0" font-size="6.9" font-weight="bold" text-anchor="end" fill="#111" transform="translate(126.1,382.0) rotate(-45)">A2t + <tspan font-family="Liberation Serif" font-style="italic">&#945;</tspan>-TLR4</text>
<text x="0.0" y="0.0" font-size="6.9" font-weight="bold" text-anchor="end" fill="#111" transform="translate(141.5,382.0) rotate(-45)">LPS, 10 ng/mL</text>
<text x="0.0" y="0.0" font-size="6.9" font-weight="bold" text-anchor="end" fill="#111" transform="translate(157.5,382.0) rotate(-45)">LPS + <tspan font-family="Liberation Serif" font-style="italic">&#945;</tspan>-TLR2</text>
<text x="0.0" y="0.0" font-size="6.9" font-weight="bold" text-anchor="end" fill="#111" transform="translate(173.2,382.0) rotate(-45)">LPS + <tspan font-family="Liberation Serif" font-style="italic">&#945;</tspan>-TLR4</text>
<text x="286.0" y="13.3" font-size="7.9" font-weight="bold" text-anchor="middle" fill="#1a1a1a" >na&#239;ve THP-1</text>
<rect x="220.3" y="16.5" width="127.4" height="119.3" fill="none" stroke="#8a8a8a" stroke-width="1.0" />
<line x1="220.3" y1="135.8" x2="347.7" y2="135.8" stroke="#666" stroke-width="1.3" />
<line x1="220.3" y1="135.8" x2="220.3" y2="137.8" stroke="#8a8a8a" stroke-width="0.8" />
<line x1="229.9" y1="135.8" x2="229.9" y2="136.8" stroke="#8a8a8a" stroke-width="0.6" />
<line x1="235.5" y1="135.8" x2="235.5" y2="136.8" stroke="#8a8a8a" stroke-width="0.6" />
<line x1="239.5" y1="135.8" x2="239.5" y2="136.8" stroke="#8a8a8a" stroke-width="0.6" />
<line x1="242.6" y1="135.8" x2="242.6" y2="136.8" stroke="#8a8a8a" stroke-width="0.6" />
<line x1="245.1" y1="135.8" x2="245.1" y2="136.8" stroke="#8a8a8a" stroke-width="0.6" />
<line x1="247.2" y1="135.8" x2="247.2" y2="136.8" stroke="#8a8a8a" stroke-width="0.6" />
<line x1="249.1" y1="135.8" x2="249.1" y2="136.8" stroke="#8a8a8a" stroke-width="0.6" />
<line x1="250.7" y1="135.8" x2="250.7" y2="136.8" stroke="#8a8a8a" stroke-width="0.6" />
<line x1="252.2" y1="135.8" x2="252.2" y2="137.8" stroke="#8a8a8a" stroke-width="0.8" />
<line x1="261.7" y1="135.8" x2="261.7" y2="136.8" stroke="#8a8a8a" stroke-width="0.6" />
<line x1="267.3" y1="135.8" x2="267.3" y2="136.8" stroke="#8a8a8a" stroke-width="0.6" />
<line x1="271.3" y1="135.8" x2="271.3" y2="136.8" stroke="#8a8a8a" stroke-width="0.6" />
<line x1="274.4" y1="135.8" x2="274.4" y2="136.8" stroke="#8a8a8a" stroke-width="0.6" />
<line x1="276.9" y1="135.8" x2="276.9" y2="136.8" stroke="#8a8a8a" stroke-width="0.6" />
<line x1="279.1" y1="135.8" x2="279.1" y2="136.8" stroke="#8a8a8a" stroke-width="0.6" />
<line x1="280.9" y1="135.8" x2="280.9" y2="136.8" stroke="#8a8a8a" stroke-width="0.6" />
<line x1="282.5" y1="135.8" x2="282.5" y2="136.8" stroke="#8a8a8a" stroke-width="0.6" />
<line x1="284.0" y1="135.8" x2="284.0" y2="137.8" stroke="#8a8a8a" stroke-width="0.8" />
<line x1="293.6" y1="135.8" x2="293.6" y2="136.8" stroke="#8a8a8a" stroke-width="0.6" />
<line x1="299.2" y1="135.8" x2="299.2" y2="136.8" stroke="#8a8a8a" stroke-width="0.6" />
<line x1="303.2" y1="135.8" x2="303.2" y2="136.8" stroke="#8a8a8a" stroke-width="0.6" />
<line x1="306.3" y1="135.8" x2="306.3" y2="136.8" stroke="#8a8a8a" stroke-width="0.6" />
<line x1="308.8" y1="135.8" x2="308.8" y2="136.8" stroke="#8a8a8a" stroke-width="0.6" />
<line x1="310.9" y1="135.8" x2="310.9" y2="136.8" stroke="#8a8a8a" stroke-width="0.6" />
<line x1="312.8" y1="135.8" x2="312.8" y2="136.8" stroke="#8a8a8a" stroke-width="0.6" />
<line x1="314.4" y1="135.8" x2="314.4" y2="136.8" stroke="#8a8a8a" stroke-width="0.6" />
<line x1="315.9" y1="135.8" x2="315.9" y2="137.8" stroke="#8a8a8a" stroke-width="0.8" />
<line x1="325.4" y1="135.8" x2="325.4" y2="136.8" stroke="#8a8a8a" stroke-width="0.6" />
<line x1="331.0" y1="135.8" x2="331.0" y2="136.8" stroke="#8a8a8a" stroke-width="0.6" />
<line x1="335.0" y1="135.8" x2="335.0" y2="136.8" stroke="#8a8a8a" stroke-width="0.6" />
<line x1="338.1" y1="135.8" x2="338.1" y2="136.8" stroke="#8a8a8a" stroke-width="0.6" />
<line x1="340.6" y1="135.8" x2="340.6" y2="136.8" stroke="#8a8a8a" stroke-width="0.6" />
<line x1="342.8" y1="135.8" x2="342.8" y2="136.8" stroke="#8a8a8a" stroke-width="0.6" />
<line x1="344.6" y1="135.8" x2="344.6" y2="136.8" stroke="#8a8a8a" stroke-width="0.6" />
<line x1="346.2" y1="135.8" x2="346.2" y2="136.8" stroke="#8a8a8a" stroke-width="0.6" />
<line x1="347.7" y1="135.8" x2="347.7" y2="137.8" stroke="#8a8a8a" stroke-width="0.8" />
<path d="M220.80,55.67 L221.30,55.39 L221.80,54.90 L222.30,54.51 L222.80,54.09 L223.30,53.45 L223.80,52.60 L224.30,51.38 L224.80,50.20 L225.30,49.03 L225.80,47.18 L226.30,45.29 L226.80,42.84 L227.30,40.49 L227.80,37.92 L228.30,35.62 L228.80,33.32 L229.30,30.98 L229.80,28.47 L230.30,25.89 L230.80,23.87 L231.30,22.16 L231.80,21.04 L232.30,19.91 L232.80,19.92 L233.30,20.84 L233.80,21.85 L234.30,23.60 L234.80,26.40 L235.30,29.60 L235.80,33.04 L236.30,36.64 L236.80,39.35 L237.30,41.60 L237.80,44.00 L238.30,45.95 L238.80,47.42 L239.30,48.76 L239.80,49.86 L240.30,50.70 L240.80,51.40 L241.30,52.10 L241.80,52.63 L242.30,53.01 L242.80,53.26 L243.30,53.46 L243.80,53.59 L244.30,53.90 L244.80,54.14 L245.30,54.29 L245.80,54.49 L246.30,54.58 L246.80,54.70 L247.30,54.93 L247.80,55.04 L248.30,55.17 L248.80,55.28" fill="none" stroke="#1a1a1a" stroke-width="1.08" stroke-linejoin="round"/>
<line x1="248.8" y1="56.0" x2="287.0" y2="56.0" stroke="#555" stroke-width="0.9" stroke-dasharray="2,1"/>
<line x1="287.0" y1="56.3" x2="347.7" y2="56.3" stroke="#999" stroke-width="0.9"/>
<path d="M220.80,94.89 L221.30,94.59 L221.80,94.06 L222.30,93.70 L222.80,93.29 L223.30,92.63 L223.80,91.82 L224.30,90.77 L224.80,89.48 L225.30,88.16 L225.80,86.80 L226.30,84.52 L226.80,82.06 L227.30,79.87 L227.80,77.51 L228.30,74.95 L228.80,72.74 L229.30,70.06 L229.80,67.45 L230.30,65.22 L230.80,63.29 L231.30,61.37 L231.80,60.10 L232.30,59.40 L232.80,60.14 L233.30,60.47 L233.80,62.30 L234.30,64.21 L234.80,67.13 L235.30,70.59 L235.80,74.03 L236.30,77.17 L236.80,79.74 L237.30,81.93 L237.80,83.99 L238.30,85.88 L238.80,87.42 L239.30,88.73 L239.80,89.61 L240.30,90.33 L240.80,91.03 L241.30,91.55 L241.80,91.92 L242.30,92.27 L242.80,92.50 L243.30,92.91 L243.80,93.02 L244.30,93.36 L244.80,93.53 L245.30,93.74 L245.80,93.85 L246.30,93.95 L246.80,94.08 L247.30,94.24 L247.80,94.38 L248.30,94.45" fill="none" stroke="#1a1a1a" stroke-width="1.08" stroke-linejoin="round"/>
<line x1="248.6" y1="95.3" x2="284.0" y2="95.3" stroke="#555" stroke-width="0.9" stroke-dasharray="2,1"/>
<line x1="284.0" y1="95.6" x2="347.7" y2="95.6" stroke="#999" stroke-width="0.9"/>
<path d="M220.80,134.97 L221.30,134.76 L221.80,134.25 L222.30,133.93 L222.80,133.49 L223.30,133.04 L223.80,132.32 L224.30,131.25 L224.80,130.14 L225.30,128.78 L225.80,127.55 L226.30,125.56 L226.80,123.50 L227.30,121.19 L227.80,118.52 L228.30,116.39 L228.80,114.12 L229.30,111.88 L229.80,109.18 L230.30,106.62 L230.80,104.08 L231.30,102.74 L231.80,101.36 L232.30,99.66 L232.80,98.92 L233.30,98.84 L233.80,100.36 L234.30,102.31 L234.80,104.22 L235.30,107.27 L235.80,110.46 L236.30,113.65 L236.80,117.08 L237.30,119.44 L237.80,121.88 L238.30,123.97 L238.80,125.82 L239.30,127.31 L239.80,128.55 L240.30,129.41 L240.80,130.05 L241.30,130.83 L241.80,131.39 L242.30,131.83 L242.80,132.16 L243.30,132.45 L243.80,132.62 L244.30,132.89 L244.80,133.12 L245.30,133.42 L245.80,133.60 L246.30,133.83 L246.80,133.83 L247.30,134.02 L247.80,134.24 L248.30,134.35 L248.80,134.44" fill="none" stroke="#1a1a1a" stroke-width="1.08" stroke-linejoin="round"/>
<line x1="249.1" y1="135.5" x2="262.0" y2="135.5" stroke="#555" stroke-width="0.9" stroke-dasharray="2,1"/>
<line x1="262.0" y1="135.8" x2="347.7" y2="135.8" stroke="#999" stroke-width="0.9"/>
<text x="289.6" y="45.3" font-size="8.4" text-anchor="start" fill="#1a1a1a" >LPS</text>
<text x="289.6" y="82.3" font-size="8.4" text-anchor="start" fill="#1a1a1a" >A2t</text>
<text x="289.6" y="119.6" font-size="8.4" text-anchor="start" fill="#1a1a1a" >untreated</text>
<text x="221.1" y="149.6" font-size="6.2" fill="#333" text-anchor="middle">10</text>
<text x="224.7" y="146.0" font-size="5.0" fill="#333">0</text>
<text x="252.5" y="149.6" font-size="6.2" fill="#333" text-anchor="middle">10</text>
<text x="256.1" y="146.0" font-size="5.0" fill="#333">1</text>
<text x="283.9" y="149.6" font-size="6.2" fill="#333" text-anchor="middle">10</text>
<text x="287.5" y="146.0" font-size="5.0" fill="#333">2</text>
<text x="315.3" y="149.6" font-size="6.2" fill="#333" text-anchor="middle">10</text>
<text x="318.9" y="146.0" font-size="5.0" fill="#333">3</text>
<text x="284.3" y="164.3" font-size="8.4" font-weight="bold" text-anchor="middle" fill="#1a1a1a" >PE-<tspan font-family="Liberation Serif" font-style="italic">&#945;</tspan>-TNF-<tspan font-family="Liberation Serif" font-style="italic">&#945;</tspan></text>
<text x="282.7" y="194.9" font-size="8.0" font-weight="bold" text-anchor="middle" fill="#1a1a1a" >PMA-differentiated THP-1</text>
<rect x="218.1" y="201.7" width="136.5" height="121.7" fill="none" stroke="#8a8a8a" stroke-width="1.0" />
<line x1="218.1" y1="323.6" x2="354.6" y2="323.6" stroke="#666" stroke-width="1.3" />
<line x1="218.1" y1="323.4" x2="218.1" y2="325.4" stroke="#8a8a8a" stroke-width="0.8" />
<line x1="228.4" y1="323.4" x2="228.4" y2="324.4" stroke="#8a8a8a" stroke-width="0.6" />
<line x1="234.4" y1="323.4" x2="234.4" y2="324.4" stroke="#8a8a8a" stroke-width="0.6" />
<line x1="238.6" y1="323.4" x2="238.6" y2="324.4" stroke="#8a8a8a" stroke-width="0.6" />
<line x1="242.0" y1="323.4" x2="242.0" y2="324.4" stroke="#8a8a8a" stroke-width="0.6" />
<line x1="244.7" y1="323.4" x2="244.7" y2="324.4" stroke="#8a8a8a" stroke-width="0.6" />
<line x1="246.9" y1="323.4" x2="246.9" y2="324.4" stroke="#8a8a8a" stroke-width="0.6" />
<line x1="248.9" y1="323.4" x2="248.9" y2="324.4" stroke="#8a8a8a" stroke-width="0.6" />
<line x1="250.7" y1="323.4" x2="250.7" y2="324.4" stroke="#8a8a8a" stroke-width="0.6" />
<line x1="252.2" y1="323.4" x2="252.2" y2="325.4" stroke="#8a8a8a" stroke-width="0.8" />
<line x1="262.5" y1="323.4" x2="262.5" y2="324.4" stroke="#8a8a8a" stroke-width="0.6" />
<line x1="268.5" y1="323.4" x2="268.5" y2="324.4" stroke="#8a8a8a" stroke-width="0.6" />
<line x1="272.8" y1="323.4" x2="272.8" y2="324.4" stroke="#8a8a8a" stroke-width="0.6" />
<line x1="276.1" y1="323.4" x2="276.1" y2="324.4" stroke="#8a8a8a" stroke-width="0.6" />
<line x1="278.8" y1="323.4" x2="278.8" y2="324.4" stroke="#8a8a8a" stroke-width="0.6" />
<line x1="281.1" y1="323.4" x2="281.1" y2="324.4" stroke="#8a8a8a" stroke-width="0.6" />
<line x1="283.0" y1="323.4" x2="283.0" y2="324.4" stroke="#8a8a8a" stroke-width="0.6" />
<line x1="284.8" y1="323.4" x2="284.8" y2="324.4" stroke="#8a8a8a" stroke-width="0.6" />
<line x1="286.4" y1="323.4" x2="286.4" y2="325.4" stroke="#8a8a8a" stroke-width="0.8" />
<line x1="296.6" y1="323.4" x2="296.6" y2="324.4" stroke="#8a8a8a" stroke-width="0.6" />
<line x1="302.6" y1="323.4" x2="302.6" y2="324.4" stroke="#8a8a8a" stroke-width="0.6" />
<line x1="306.9" y1="323.4" x2="306.9" y2="324.4" stroke="#8a8a8a" stroke-width="0.6" />
<line x1="310.2" y1="323.4" x2="310.2" y2="324.4" stroke="#8a8a8a" stroke-width="0.6" />
<line x1="312.9" y1="323.4" x2="312.9" y2="324.4" stroke="#8a8a8a" stroke-width="0.6" />
<line x1="315.2" y1="323.4" x2="315.2" y2="324.4" stroke="#8a8a8a" stroke-width="0.6" />
<line x1="317.2" y1="323.4" x2="317.2" y2="324.4" stroke="#8a8a8a" stroke-width="0.6" />
<line x1="318.9" y1="323.4" x2="318.9" y2="324.4" stroke="#8a8a8a" stroke-width="0.6" />
<line x1="320.5" y1="323.4" x2="320.5" y2="325.4" stroke="#8a8a8a" stroke-width="0.8" />
<line x1="330.7" y1="323.4" x2="330.7" y2="324.4" stroke="#8a8a8a" stroke-width="0.6" />
<line x1="336.8" y1="323.4" x2="336.8" y2="324.4" stroke="#8a8a8a" stroke-width="0.6" />
<line x1="341.0" y1="323.4" x2="341.0" y2="324.4" stroke="#8a8a8a" stroke-width="0.6" />
<line x1="344.3" y1="323.4" x2="344.3" y2="324.4" stroke="#8a8a8a" stroke-width="0.6" />
<line x1="347.0" y1="323.4" x2="347.0" y2="324.4" stroke="#8a8a8a" stroke-width="0.6" />
<line x1="349.3" y1="323.4" x2="349.3" y2="324.4" stroke="#8a8a8a" stroke-width="0.6" />
<line x1="351.3" y1="323.4" x2="351.3" y2="324.4" stroke="#8a8a8a" stroke-width="0.6" />
<line x1="353.0" y1="323.4" x2="353.0" y2="324.4" stroke="#8a8a8a" stroke-width="0.6" />
<line x1="354.6" y1="323.4" x2="354.6" y2="325.4" stroke="#8a8a8a" stroke-width="0.8" />
<path d="M218.30,241.48 L218.80,240.25 L219.30,239.42 L219.80,238.88 L220.30,239.40 L220.80,238.79 L221.30,237.00 L221.80,236.61 L222.30,237.18 L222.80,236.65 L223.30,235.04 L223.80,235.62 L224.30,234.85 L224.80,230.86 L225.30,230.87 L225.80,229.90 L226.30,225.52 L226.80,220.00 L227.30,220.50 L227.80,220.45 L228.30,220.69 L228.80,213.34 L229.30,220.91 L229.80,213.42 L230.30,216.35 L230.80,211.63 L231.30,207.45 L231.80,205.76 L232.30,204.97 L232.80,209.95 L233.30,207.73 L233.80,204.62 L234.30,215.72 L234.80,212.30 L235.30,215.17 L235.80,210.67 L236.30,215.66 L236.80,216.36 L237.30,216.77 L237.80,214.36 L238.30,212.66 L238.80,214.92 L239.30,211.70 L239.80,213.02 L240.30,216.60 L240.80,215.11 L241.30,216.93 L241.80,217.40 L242.30,221.25 L242.80,220.52 L243.30,218.61 L243.80,221.07 L244.30,217.76 L244.80,218.26 L245.30,220.13 L245.80,216.25 L246.30,217.65 L246.80,215.63 L247.30,217.86 L247.80,220.28 L248.30,215.96 L248.80,217.46 L249.30,215.30 L249.80,214.66 L250.30,214.30 L250.80,218.85 L251.30,220.55 L251.80,217.55 L252.30,215.76 L252.80,218.55 L253.30,217.06 L253.80,219.72 L254.30,219.67 L254.80,220.47 L255.30,221.81 L255.80,220.82 L256.30,222.23 L256.80,221.43 L257.30,224.47 L257.80,223.84 L258.30,224.79 L258.80,222.76 L259.30,223.49 L259.80,223.62 L260.30,220.65 L260.80,221.46 L261.30,221.14 L261.80,223.63 L262.30,225.00 L262.80,223.42 L263.30,221.05 L263.80,223.44 L264.30,218.16 L264.80,222.55 L265.30,218.52 L265.80,214.49 L266.30,223.23 L266.80,221.09 L267.30,216.30 L267.80,218.00 L268.30,216.98 L268.80,217.18 L269.30,214.13 L269.80,215.27 L270.30,217.03 L270.80,216.33 L271.30,217.81 L271.80,215.54 L272.30,219.43 L272.80,213.69 L273.30,215.26 L273.80,211.08 L274.30,212.08 L274.80,216.61 L275.30,212.22 L275.80,214.68 L276.30,213.03 L276.80,210.63 L277.30,211.40 L277.80,210.53 L278.30,210.03 L278.80,211.91 L279.30,211.58 L279.80,210.69 L280.30,211.61 L280.80,215.31 L281.30,215.70 L281.80,218.47 L282.30,222.04 L282.80,219.68 L283.30,218.98 L283.80,219.49 L284.30,219.09 L284.80,219.75 L285.30,220.33 L285.80,222.00 L286.30,222.68 L286.80,225.13 L287.30,224.14 L287.80,225.02 L288.30,224.19 L288.80,228.74 L289.30,227.75 L289.80,230.02 L290.30,229.27 L290.80,230.71 L291.30,229.11 L291.80,230.87 L292.30,233.70 L292.80,229.56 L293.30,232.80 L293.80,233.84 L294.30,232.90 L294.80,233.74 L295.30,234.74 L295.80,233.25 L296.30,234.81 L296.80,233.97 L297.30,234.51 L297.80,234.93 L298.30,235.71 L298.80,236.30 L299.30,236.90 L299.80,235.71 L300.30,238.74 L300.80,238.36 L301.30,238.32 L301.80,237.82 L302.30,238.32 L302.80,239.04 L303.30,239.24 L303.80,238.27 L304.30,239.91 L304.80,241.25 L305.30,238.74 L305.80,240.41 L306.30,240.20 L306.80,240.09 L307.30,240.94 L307.80,239.87 L308.30,240.62 L308.80,241.30 L309.30,240.73 L309.80,240.79 L310.30,241.07 L310.80,240.90 L311.30,241.65 L311.80,240.82 L312.30,241.48 L312.80,240.79 L313.30,241.47 L313.80,241.26 L314.30,240.52 L314.80,241.37 L315.30,241.09 L315.80,241.32 L316.30,241.92 L316.80,241.22 L317.30,241.28 L317.80,241.96 L318.30,241.67 L318.80,242.07 L319.30,241.80 L319.80,241.53 L320.30,241.78 L320.80,242.10 L321.30,242.10 L321.80,241.91 L322.30,241.96 L322.80,241.96" fill="none" stroke="#1a1a1a" stroke-width="1.22" stroke-linejoin="round"/>
<line x1="323.0" y1="242.1" x2="354.6" y2="242.1" stroke="#999" stroke-width="0.9"/>
<path d="M218.80,281.29 L219.30,281.89 L219.80,280.74 L220.30,279.81 L220.80,279.72 L221.30,279.98 L221.80,279.57 L222.30,278.11 L222.80,276.73 L223.30,276.22 L223.80,273.83 L224.30,272.86 L224.80,273.26 L225.30,270.51 L225.80,269.90 L226.30,269.38 L226.80,266.88 L227.30,264.13 L227.80,264.95 L228.30,261.03 L228.80,257.54 L229.30,256.99 L229.80,254.33 L230.30,250.09 L230.80,250.73 L231.30,249.43 L231.80,245.45 L232.30,247.90 L232.80,248.21 L233.30,248.45 L233.80,246.92 L234.30,249.61 L234.80,249.88 L235.30,249.36 L235.80,246.47 L236.30,248.76 L236.80,244.76 L237.30,247.51 L237.80,251.13 L238.30,248.73 L238.80,250.05 L239.30,252.98 L239.80,249.82 L240.30,249.22 L240.80,249.36 L241.30,250.06 L241.80,243.65 L242.30,245.27 L242.80,244.18 L243.30,243.26 L243.80,243.66 L244.30,246.72 L244.80,251.64 L245.30,252.72 L245.80,254.55 L246.30,253.44 L246.80,250.03 L247.30,249.89 L247.80,250.92 L248.30,249.61 L248.80,248.95 L249.30,250.87 L249.80,250.45 L250.30,253.50 L250.80,256.22 L251.30,255.49 L251.80,258.24 L252.30,261.91 L252.80,258.60 L253.30,256.58 L253.80,251.68 L254.30,250.40 L254.80,251.49 L255.30,256.30 L255.80,252.85 L256.30,253.26 L256.80,253.80 L257.30,255.19 L257.80,257.49 L258.30,257.90 L258.80,261.54 L259.30,259.68 L259.80,262.10 L260.30,261.24 L260.80,262.40 L261.30,260.18 L261.80,262.15 L262.30,262.49 L262.80,262.53 L263.30,260.37 L263.80,264.45 L264.30,263.09 L264.80,263.27 L265.30,263.74 L265.80,263.72 L266.30,264.01 L266.80,261.38 L267.30,261.30 L267.80,262.38 L268.30,262.35 L268.80,262.01 L269.30,262.09 L269.80,262.09 L270.30,263.40 L270.80,265.28 L271.30,262.83 L271.80,265.82 L272.30,264.65 L272.80,262.68 L273.30,263.91 L273.80,260.69 L274.30,259.99 L274.80,260.21 L275.30,261.54 L275.80,261.82 L276.30,261.75 L276.80,262.71 L277.30,260.02 L277.80,263.56 L278.30,261.30 L278.80,262.26 L279.30,262.58 L279.80,261.63 L280.30,261.36 L280.80,261.82 L281.30,263.08 L281.80,263.85 L282.30,265.03 L282.80,264.40 L283.30,265.91 L283.80,267.04 L284.30,269.42 L284.80,267.15 L285.30,270.93 L285.80,269.50 L286.30,269.56 L286.80,271.04 L287.30,272.07 L287.80,271.73 L288.30,272.73 L288.80,272.18 L289.30,273.52 L289.80,273.85 L290.30,272.95 L290.80,274.64 L291.30,273.72 L291.80,273.77 L292.30,273.02 L292.80,273.68 L293.30,274.71 L293.80,273.06 L294.30,274.83 L294.80,274.70 L295.30,274.76 L295.80,272.89 L296.30,274.87 L296.80,275.72 L297.30,274.85 L297.80,275.77 L298.30,274.15 L298.80,276.70 L299.30,275.97 L299.80,277.32 L300.30,275.66 L300.80,277.67 L301.30,277.28 L301.80,278.21 L302.30,277.33 L302.80,277.79 L303.30,279.78 L303.80,278.17 L304.30,278.50 L304.80,279.00 L305.30,278.78 L305.80,280.13 L306.30,280.56 L306.80,279.48 L307.30,279.15 L307.80,280.73 L308.30,280.85 L308.80,280.87 L309.30,281.17 L309.80,280.47 L310.30,280.93 L310.80,280.59 L311.30,280.67 L311.80,281.66 L312.30,281.13 L312.80,282.26 L313.30,281.56 L313.80,281.40 L314.30,281.95 L314.80,282.34 L315.30,282.00 L315.80,281.57 L316.30,282.11 L316.80,282.46 L317.30,282.04 L317.80,282.03 L318.30,282.52 L318.80,282.34 L319.30,282.10 L319.80,282.31 L320.30,282.28 L320.80,282.54 L321.30,282.55 L321.80,282.80 L322.30,282.75 L322.80,282.34 L323.30,282.78 L323.80,282.92 L324.30,282.87" fill="none" stroke="#1a1a1a" stroke-width="1.22" stroke-linejoin="round"/>
<line x1="324.5" y1="283.0" x2="354.6" y2="283.0" stroke="#999" stroke-width="0.9"/>
<path d="M218.80,323.27 L219.30,322.84 L219.80,322.46 L220.30,322.32 L220.80,321.77 L221.30,321.29 L221.80,321.26 L222.30,320.51 L222.80,320.09 L223.30,319.40 L223.80,318.92 L224.30,318.46 L224.80,318.02 L225.30,317.51 L225.80,316.19 L226.30,316.27 L226.80,315.08 L227.30,313.74 L227.80,312.91 L228.30,311.33 L228.80,309.48 L229.30,309.21 L229.80,306.52 L230.30,305.28 L230.80,303.59 L231.30,302.46 L231.80,299.95 L232.30,298.96 L232.80,296.45 L233.30,295.71 L233.80,293.05 L234.30,291.49 L234.80,290.95 L235.30,288.29 L235.80,286.24 L236.30,287.62 L236.80,288.06 L237.30,288.94 L237.80,290.68 L238.30,290.11 L238.80,291.83 L239.30,292.56 L239.80,292.65 L240.30,293.66 L240.80,294.40 L241.30,293.60 L241.80,292.36 L242.30,292.60 L242.80,291.22 L243.30,292.07 L243.80,292.39 L244.30,294.00 L244.80,295.83 L245.30,296.21 L245.80,296.63 L246.30,295.78 L246.80,295.07 L247.30,295.49 L247.80,296.36 L248.30,297.87 L248.80,298.51 L249.30,300.26 L249.80,301.97 L250.30,302.93 L250.80,304.12 L251.30,304.32 L251.80,304.98 L252.30,306.80 L252.80,307.52 L253.30,308.81 L253.80,309.40 L254.30,310.81 L254.80,311.58 L255.30,312.35 L255.80,313.10 L256.30,313.89 L256.80,314.67 L257.30,315.31 L257.80,316.16 L258.30,316.42 L258.80,317.61 L259.30,317.83 L259.80,318.71 L260.30,318.85 L260.80,319.19 L261.30,319.99 L261.80,319.93 L262.30,320.14 L262.80,320.62 L263.30,320.91 L263.80,321.45 L264.30,321.37 L264.80,321.65 L265.30,321.60 L265.80,321.96 L266.30,322.18 L266.80,322.48 L267.30,322.30 L267.80,322.49 L268.30,322.52 L268.80,322.47 L269.30,322.63 L269.80,322.67 L270.30,322.58 L270.80,322.87 L271.30,322.93 L271.80,322.93 L272.30,322.93 L272.80,323.19 L273.30,323.12 L273.80,323.18 L274.30,323.22 L274.80,323.10 L275.30,323.19 L275.80,323.13 L276.30,323.15 L276.80,323.16 L277.30,323.17 L277.80,323.25 L278.30,323.20 L278.80,323.19 L279.30,323.19 L279.80,323.24 L280.30,323.16 L280.80,323.19 L281.30,323.23 L281.80,323.21 L282.30,323.24 L282.80,323.22 L283.30,323.40 L283.80,323.37 L284.30,323.32 L284.80,323.29" fill="none" stroke="#1a1a1a" stroke-width="1.22" stroke-linejoin="round"/>
<line x1="285.2" y1="323.4" x2="354.6" y2="323.4" stroke="#999" stroke-width="0.9"/>
<text x="305.6" y="227.0" font-size="8.4" text-anchor="start" fill="#1a1a1a" >LPS</text>
<text x="305.6" y="266.7" font-size="8.4" text-anchor="start" fill="#1a1a1a" >A2t</text>
<text x="305.6" y="304.4" font-size="8.4" text-anchor="start" fill="#1a1a1a" >untreated</text>
<text x="217.4" y="337.6" font-size="6.0" fill="#333" text-anchor="middle">10</text>
<text x="220.9" y="333.7" font-size="4.8" fill="#333">0</text>
<text x="251.6" y="337.6" font-size="6.0" fill="#333" text-anchor="middle">10</text>
<text x="255.1" y="333.7" font-size="4.8" fill="#333">1</text>
<text x="285.8" y="337.6" font-size="6.0" fill="#333" text-anchor="middle">10</text>
<text x="289.3" y="333.7" font-size="4.8" fill="#333">2</text>
<text x="320.0" y="337.6" font-size="6.0" fill="#333" text-anchor="middle">10</text>
<text x="323.5" y="333.7" font-size="4.8" fill="#333">3</text>
<text x="278.1" y="352.9" font-size="8.4" font-weight="bold" text-anchor="middle" fill="#1a1a1a" >PE-<tspan font-family="Liberation Serif" font-style="italic">&#945;</tspan>-TNF-<tspan font-family="Liberation Serif" font-style="italic">&#945;</tspan></text>
<rect x="375.4" y="18.3" width="141.9" height="146.2" fill="none" stroke="#8a8a8a" stroke-width="1.0" />
<line x1="375.4" y1="164.5" x2="517.3" y2="164.5" stroke="#666" stroke-width="1.3" />
<line x1="375.4" y1="164.5" x2="375.4" y2="166.5" stroke="#8a8a8a" stroke-width="0.8" />
<line x1="386.1" y1="164.5" x2="386.1" y2="165.5" stroke="#8a8a8a" stroke-width="0.6" />
<line x1="392.3" y1="164.5" x2="392.3" y2="165.5" stroke="#8a8a8a" stroke-width="0.6" />
<line x1="396.8" y1="164.5" x2="396.8" y2="165.5" stroke="#8a8a8a" stroke-width="0.6" />
<line x1="400.2" y1="164.5" x2="400.2" y2="165.5" stroke="#8a8a8a" stroke-width="0.6" />
<line x1="403.0" y1="164.5" x2="403.0" y2="165.5" stroke="#8a8a8a" stroke-width="0.6" />
<line x1="405.4" y1="164.5" x2="405.4" y2="165.5" stroke="#8a8a8a" stroke-width="0.6" />
<line x1="407.4" y1="164.5" x2="407.4" y2="165.5" stroke="#8a8a8a" stroke-width="0.6" />
<line x1="409.3" y1="164.5" x2="409.3" y2="165.5" stroke="#8a8a8a" stroke-width="0.6" />
<line x1="410.9" y1="164.5" x2="410.9" y2="166.5" stroke="#8a8a8a" stroke-width="0.8" />
<line x1="421.6" y1="164.5" x2="421.6" y2="165.5" stroke="#8a8a8a" stroke-width="0.6" />
<line x1="427.8" y1="164.5" x2="427.8" y2="165.5" stroke="#8a8a8a" stroke-width="0.6" />
<line x1="432.2" y1="164.5" x2="432.2" y2="165.5" stroke="#8a8a8a" stroke-width="0.6" />
<line x1="435.7" y1="164.5" x2="435.7" y2="165.5" stroke="#8a8a8a" stroke-width="0.6" />
<line x1="438.5" y1="164.5" x2="438.5" y2="165.5" stroke="#8a8a8a" stroke-width="0.6" />
<line x1="440.9" y1="164.5" x2="440.9" y2="165.5" stroke="#8a8a8a" stroke-width="0.6" />
<line x1="442.9" y1="164.5" x2="442.9" y2="165.5" stroke="#8a8a8a" stroke-width="0.6" />
<line x1="444.7" y1="164.5" x2="444.7" y2="165.5" stroke="#8a8a8a" stroke-width="0.6" />
<line x1="446.3" y1="164.5" x2="446.3" y2="166.5" stroke="#8a8a8a" stroke-width="0.8" />
<line x1="457.0" y1="164.5" x2="457.0" y2="165.5" stroke="#8a8a8a" stroke-width="0.6" />
<line x1="463.3" y1="164.5" x2="463.3" y2="165.5" stroke="#8a8a8a" stroke-width="0.6" />
<line x1="467.7" y1="164.5" x2="467.7" y2="165.5" stroke="#8a8a8a" stroke-width="0.6" />
<line x1="471.1" y1="164.5" x2="471.1" y2="165.5" stroke="#8a8a8a" stroke-width="0.6" />
<line x1="474.0" y1="164.5" x2="474.0" y2="165.5" stroke="#8a8a8a" stroke-width="0.6" />
<line x1="476.3" y1="164.5" x2="476.3" y2="165.5" stroke="#8a8a8a" stroke-width="0.6" />
<line x1="478.4" y1="164.5" x2="478.4" y2="165.5" stroke="#8a8a8a" stroke-width="0.6" />
<line x1="480.2" y1="164.5" x2="480.2" y2="165.5" stroke="#8a8a8a" stroke-width="0.6" />
<line x1="481.8" y1="164.5" x2="481.8" y2="166.5" stroke="#8a8a8a" stroke-width="0.8" />
<line x1="492.5" y1="164.5" x2="492.5" y2="165.5" stroke="#8a8a8a" stroke-width="0.6" />
<line x1="498.8" y1="164.5" x2="498.8" y2="165.5" stroke="#8a8a8a" stroke-width="0.6" />
<line x1="503.2" y1="164.5" x2="503.2" y2="165.5" stroke="#8a8a8a" stroke-width="0.6" />
<line x1="506.6" y1="164.5" x2="506.6" y2="165.5" stroke="#8a8a8a" stroke-width="0.6" />
<line x1="509.4" y1="164.5" x2="509.4" y2="165.5" stroke="#8a8a8a" stroke-width="0.6" />
<line x1="511.8" y1="164.5" x2="511.8" y2="165.5" stroke="#8a8a8a" stroke-width="0.6" />
<line x1="513.9" y1="164.5" x2="513.9" y2="165.5" stroke="#8a8a8a" stroke-width="0.6" />
<line x1="515.7" y1="164.5" x2="515.7" y2="165.5" stroke="#8a8a8a" stroke-width="0.6" />
<line x1="517.3" y1="164.5" x2="517.3" y2="166.5" stroke="#8a8a8a" stroke-width="0.8" />
<path d="M375.60,66.33 L376.10,65.73 L376.60,65.34 L377.10,65.09 L377.60,64.78 L378.10,64.72 L378.60,64.06 L379.10,63.90 L379.60,62.19 L380.10,61.83 L380.60,60.38 L381.10,60.58 L381.60,58.73 L382.10,57.19 L382.60,56.01 L383.10,54.55 L383.60,51.64 L384.10,50.39 L384.60,47.95 L385.10,46.89 L385.60,44.73 L386.10,42.56 L386.60,40.30 L387.10,38.51 L387.60,36.22 L388.10,35.23 L388.60,34.06 L389.10,29.14 L389.60,29.14 L390.10,27.42 L390.60,26.78 L391.10,24.03 L391.60,23.96 L392.10,22.53 L392.60,23.46 L393.10,22.29 L393.60,21.63 L394.10,22.51 L394.60,22.36 L395.10,21.58 L395.60,23.92 L396.10,24.03 L396.60,23.97 L397.10,25.33 L397.60,25.88 L398.10,24.14 L398.60,24.76 L399.10,28.61 L399.60,31.15 L400.10,29.01 L400.60,26.34 L401.10,26.08 L401.60,26.47 L402.10,25.76 L402.60,27.48 L403.10,26.89 L403.60,27.61 L404.10,30.14 L404.60,29.40 L405.10,30.58 L405.60,31.84 L406.10,34.14 L406.60,35.17 L407.10,36.67 L407.60,37.20 L408.10,40.36 L408.60,40.69 L409.10,40.44 L409.60,42.28 L410.10,43.81 L410.60,44.68 L411.10,46.60 L411.60,47.38 L412.10,47.31 L412.60,48.75 L413.10,49.20 L413.60,51.26 L414.10,52.35 L414.60,54.73 L415.10,54.35 L415.60,54.28 L416.10,55.99 L416.60,57.35 L417.10,57.77 L417.60,58.76 L418.10,59.78 L418.60,60.85 L419.10,61.49 L419.60,62.08 L420.10,63.30 L420.60,63.33 L421.10,63.74 L421.60,63.93 L422.10,64.48 L422.60,65.19 L423.10,65.15 L423.60,65.83 L424.10,66.18 L424.60,66.15 L425.10,66.36 L425.60,66.33 L426.10,66.72 L426.60,66.83 L427.10,66.87 L427.60,66.80 L428.10,66.89 L428.60,67.10 L429.10,67.10 L429.60,67.03 L430.10,67.10 L430.60,66.94 L431.10,66.98 L431.60,67.00 L432.10,67.04 L432.60,66.85 L433.10,67.09 L433.60,67.10 L434.10,66.88 L434.60,66.86 L435.10,67.04" fill="none" stroke="#1a1a1a" stroke-width="1.22" stroke-linejoin="round"/>
<line x1="435.4" y1="67.1" x2="517.3" y2="67.1" stroke="#999" stroke-width="0.9"/>
<path d="M375.60,113.62 L376.10,112.10 L376.60,112.35 L377.10,111.37 L377.60,110.58 L378.10,111.35 L378.60,109.87 L379.10,108.89 L379.60,108.60 L380.10,107.08 L380.60,106.40 L381.10,106.32 L381.60,104.33 L382.10,100.98 L382.60,99.69 L383.10,95.95 L383.60,92.88 L384.10,90.53 L384.60,89.05 L385.10,88.78 L385.60,85.66 L386.10,86.66 L386.60,81.88 L387.10,80.24 L387.60,74.36 L388.10,72.96 L388.60,71.71 L389.10,73.76 L389.60,73.67 L390.10,76.81 L390.60,75.80 L391.10,74.77 L391.60,73.95 L392.10,76.72 L392.60,75.32 L393.10,78.74 L393.60,79.09 L394.10,78.66 L394.60,78.67 L395.10,78.85 L395.60,83.72 L396.10,80.24 L396.60,84.58 L397.10,83.96 L397.60,83.28 L398.10,82.83 L398.60,86.05 L399.10,87.39 L399.60,85.06 L400.10,86.79 L400.60,89.33 L401.10,88.57 L401.60,89.99 L402.10,86.47 L402.60,87.26 L403.10,84.80 L403.60,89.25 L404.10,86.40 L404.60,85.17 L405.10,88.07 L405.60,88.21 L406.10,90.26 L406.60,87.32 L407.10,87.38 L407.60,87.76 L408.10,88.46 L408.60,85.99 L409.10,86.79 L409.60,85.65 L410.10,84.41 L410.60,85.71 L411.10,86.50 L411.60,86.24 L412.10,89.56 L412.60,87.22 L413.10,90.62 L413.60,90.87 L414.10,90.20 L414.60,89.96 L415.10,93.15 L415.60,96.43 L416.10,96.85 L416.60,94.97 L417.10,94.27 L417.60,91.19 L418.10,92.01 L418.60,90.41 L419.10,93.22 L419.60,92.90 L420.10,92.43 L420.60,93.45 L421.10,92.31 L421.60,87.83 L422.10,90.31 L422.60,88.18 L423.10,90.68 L423.60,91.97 L424.10,88.24 L424.60,88.59 L425.10,87.53 L425.60,87.56 L426.10,87.24 L426.60,87.35 L427.10,84.20 L427.60,87.30 L428.10,84.27 L428.60,85.74 L429.10,86.80 L429.60,86.26 L430.10,84.18 L430.60,84.06 L431.10,83.95 L431.60,84.06 L432.10,85.15 L432.60,81.70 L433.10,83.54 L433.60,83.49 L434.10,83.19 L434.60,82.84 L435.10,83.95 L435.60,82.41 L436.10,82.65 L436.60,81.67 L437.10,82.58 L437.60,77.01 L438.10,80.54 L438.60,77.77 L439.10,78.29 L439.60,79.82 L440.10,80.97 L440.60,84.41 L441.10,85.63 L441.60,88.37 L442.10,86.61 L442.60,90.43 L443.10,89.61 L443.60,89.52 L444.10,89.50 L444.60,89.90 L445.10,90.02 L445.60,91.14 L446.10,92.21 L446.60,93.32 L447.10,93.59 L447.60,96.24 L448.10,97.18 L448.60,99.42 L449.10,101.31 L449.60,100.62 L450.10,100.21 L450.60,99.51 L451.10,100.11 L451.60,100.30 L452.10,102.68 L452.60,101.99 L453.10,103.13 L453.60,103.10 L454.10,104.13 L454.60,105.57 L455.10,104.56 L455.60,105.30 L456.10,105.48 L456.60,107.09 L457.10,106.35 L457.60,106.74 L458.10,106.94 L458.60,107.30 L459.10,108.75 L459.60,110.28 L460.10,108.63 L460.60,110.03 L461.10,110.00 L461.60,109.67 L462.10,110.41 L462.60,110.68 L463.10,110.72 L463.60,112.13 L464.10,110.69 L464.60,111.91 L465.10,112.13 L465.60,112.01 L466.10,112.53 L466.60,113.03 L467.10,113.01 L467.60,113.34 L468.10,113.57 L468.60,112.84 L469.10,113.99 L469.60,114.30 L470.10,114.02 L470.60,114.12 L471.10,113.58 L471.60,114.01 L472.10,113.94 L472.60,114.10 L473.10,114.54 L473.60,114.26 L474.10,114.50 L474.60,114.27 L475.10,114.68 L475.60,114.74 L476.10,114.63 L476.60,114.65 L477.10,115.09 L477.60,114.62 L478.10,114.66 L478.60,114.72 L479.10,115.06 L479.60,115.22 L480.10,114.96 L480.60,114.82 L481.10,114.89 L481.60,115.14 L482.10,114.85 L482.60,115.24 L483.10,115.26 L483.60,115.07 L484.10,115.18 L484.60,115.22 L485.10,115.30 L485.60,114.98 L486.10,115.30 L486.60,115.12" fill="none" stroke="#1a1a1a" stroke-width="1.22" stroke-linejoin="round"/>
<line x1="487.0" y1="115.3" x2="517.3" y2="115.3" stroke="#999" stroke-width="0.9"/>
<path d="M375.40,163.73 L375.90,163.44 L376.40,163.03 L376.90,162.54 L377.40,162.05 L377.90,161.78 L378.40,161.85 L378.90,161.39 L379.40,160.48 L379.90,159.97 L380.40,158.90 L380.90,158.36 L381.40,157.81 L381.90,156.20 L382.40,154.88 L382.90,153.92 L383.40,152.44 L383.90,150.75 L384.40,149.74 L384.90,147.85 L385.40,146.85 L385.90,144.76 L386.40,142.98 L386.90,141.52 L387.40,139.69 L387.90,137.73 L388.40,136.20 L388.90,135.21 L389.40,133.49 L389.90,132.23 L390.40,128.63 L390.90,127.78 L391.40,125.96 L391.90,124.56 L392.40,122.30 L392.90,120.35 L393.40,119.35 L393.90,121.01 L394.40,122.15 L394.90,125.17 L395.40,125.64 L395.90,125.27 L396.40,127.08 L396.90,127.05 L397.40,129.33 L397.90,128.84 L398.40,127.92 L398.90,127.67 L399.40,126.98 L399.90,127.38 L400.40,127.12 L400.90,127.08 L401.40,127.99 L401.90,127.27 L402.40,130.91 L402.90,130.42 L403.40,132.54 L403.90,133.61 L404.40,132.61 L404.90,131.72 L405.40,131.39 L405.90,132.95 L406.40,134.23 L406.90,135.76 L407.40,136.74 L407.90,139.12 L408.40,139.61 L408.90,141.31 L409.40,141.77 L409.90,142.94 L410.40,143.81 L410.90,145.13 L411.40,146.29 L411.90,147.15 L412.40,147.91 L412.90,149.05 L413.40,151.25 L413.90,151.58 L414.40,152.54 L414.90,154.14 L415.40,154.95 L415.90,155.70 L416.40,156.23 L416.90,157.70 L417.40,157.73 L417.90,158.40 L418.40,158.84 L418.90,159.17 L419.40,159.71 L419.90,160.40 L420.40,160.69 L420.90,160.85 L421.40,160.96 L421.90,161.22 L422.40,161.73 L422.90,161.83 L423.40,162.44 L423.90,162.62 L424.40,163.02 L424.90,162.86 L425.40,162.80 L425.90,162.91 L426.40,162.74 L426.90,163.25 L427.40,163.45 L427.90,163.72 L428.40,163.83 L428.90,163.89 L429.40,163.89 L429.90,163.97 L430.40,164.07 L430.90,163.91 L431.40,164.00 L431.90,163.97 L432.40,164.25 L432.90,164.26 L433.40,164.26 L433.90,164.15 L434.40,164.30" fill="none" stroke="#1a1a1a" stroke-width="1.22" stroke-linejoin="round"/>
<line x1="434.6" y1="164.5" x2="517.3" y2="164.5" stroke="#999" stroke-width="0.9"/>
<text x="466.6" y="45.5" font-size="10.0" text-anchor="start" fill="#1a1a1a" >LPS +</text>
<text x="466.6" y="57.6" font-size="10.0" text-anchor="start" fill="#1a1a1a" ><tspan font-family="Liberation Serif" font-style="italic">&#945;</tspan>-TLR4</text>
<text x="466.6" y="98.8" font-size="10.0" text-anchor="start" fill="#1a1a1a" >LPS</text>
<text x="466.6" y="149.6" font-size="10.0" text-anchor="start" fill="#1a1a1a" >untreated</text>
<text x="374.4" y="180.8" font-size="7.0" fill="#222" text-anchor="middle">10</text>
<text x="378.5" y="176.2" font-size="5.4" fill="#222">0</text>
<text x="409.9" y="180.8" font-size="7.0" fill="#222" text-anchor="middle">10</text>
<text x="414.0" y="176.2" font-size="5.4" fill="#222">1</text>
<text x="445.4" y="180.8" font-size="7.0" fill="#222" text-anchor="middle">10</text>
<text x="449.5" y="176.2" font-size="5.4" fill="#222">2</text>
<text x="480.9" y="180.8" font-size="7.0" fill="#222" text-anchor="middle">10</text>
<text x="485.0" y="176.2" font-size="5.4" fill="#222">3</text>
<rect x="374.0" y="187.6" width="142.4" height="145.9" fill="none" stroke="#8a8a8a" stroke-width="1.0" />
<line x1="374.0" y1="333.5" x2="516.4" y2="333.5" stroke="#666" stroke-width="1.3" />
<line x1="374.0" y1="333.5" x2="374.0" y2="335.5" stroke="#8a8a8a" stroke-width="0.8" />
<line x1="384.7" y1="333.5" x2="384.7" y2="334.5" stroke="#8a8a8a" stroke-width="0.6" />
<line x1="391.0" y1="333.5" x2="391.0" y2="334.5" stroke="#8a8a8a" stroke-width="0.6" />
<line x1="395.4" y1="333.5" x2="395.4" y2="334.5" stroke="#8a8a8a" stroke-width="0.6" />
<line x1="398.9" y1="333.5" x2="398.9" y2="334.5" stroke="#8a8a8a" stroke-width="0.6" />
<line x1="401.7" y1="333.5" x2="401.7" y2="334.5" stroke="#8a8a8a" stroke-width="0.6" />
<line x1="404.1" y1="333.5" x2="404.1" y2="334.5" stroke="#8a8a8a" stroke-width="0.6" />
<line x1="406.2" y1="333.5" x2="406.2" y2="334.5" stroke="#8a8a8a" stroke-width="0.6" />
<line x1="408.0" y1="333.5" x2="408.0" y2="334.5" stroke="#8a8a8a" stroke-width="0.6" />
<line x1="409.6" y1="333.5" x2="409.6" y2="335.5" stroke="#8a8a8a" stroke-width="0.8" />
<line x1="420.3" y1="333.5" x2="420.3" y2="334.5" stroke="#8a8a8a" stroke-width="0.6" />
<line x1="426.6" y1="333.5" x2="426.6" y2="334.5" stroke="#8a8a8a" stroke-width="0.6" />
<line x1="431.0" y1="333.5" x2="431.0" y2="334.5" stroke="#8a8a8a" stroke-width="0.6" />
<line x1="434.5" y1="333.5" x2="434.5" y2="334.5" stroke="#8a8a8a" stroke-width="0.6" />
<line x1="437.3" y1="333.5" x2="437.3" y2="334.5" stroke="#8a8a8a" stroke-width="0.6" />
<line x1="439.7" y1="333.5" x2="439.7" y2="334.5" stroke="#8a8a8a" stroke-width="0.6" />
<line x1="441.8" y1="333.5" x2="441.8" y2="334.5" stroke="#8a8a8a" stroke-width="0.6" />
<line x1="443.6" y1="333.5" x2="443.6" y2="334.5" stroke="#8a8a8a" stroke-width="0.6" />
<line x1="445.2" y1="333.5" x2="445.2" y2="335.5" stroke="#8a8a8a" stroke-width="0.8" />
<line x1="455.9" y1="333.5" x2="455.9" y2="334.5" stroke="#8a8a8a" stroke-width="0.6" />
<line x1="462.2" y1="333.5" x2="462.2" y2="334.5" stroke="#8a8a8a" stroke-width="0.6" />
<line x1="466.6" y1="333.5" x2="466.6" y2="334.5" stroke="#8a8a8a" stroke-width="0.6" />
<line x1="470.1" y1="333.5" x2="470.1" y2="334.5" stroke="#8a8a8a" stroke-width="0.6" />
<line x1="472.9" y1="333.5" x2="472.9" y2="334.5" stroke="#8a8a8a" stroke-width="0.6" />
<line x1="475.3" y1="333.5" x2="475.3" y2="334.5" stroke="#8a8a8a" stroke-width="0.6" />
<line x1="477.4" y1="333.5" x2="477.4" y2="334.5" stroke="#8a8a8a" stroke-width="0.6" />
<line x1="479.2" y1="333.5" x2="479.2" y2="334.5" stroke="#8a8a8a" stroke-width="0.6" />
<line x1="480.8" y1="333.5" x2="480.8" y2="335.5" stroke="#8a8a8a" stroke-width="0.8" />
<line x1="491.5" y1="333.5" x2="491.5" y2="334.5" stroke="#8a8a8a" stroke-width="0.6" />
<line x1="497.8" y1="333.5" x2="497.8" y2="334.5" stroke="#8a8a8a" stroke-width="0.6" />
<line x1="502.2" y1="333.5" x2="502.2" y2="334.5" stroke="#8a8a8a" stroke-width="0.6" />
<line x1="505.7" y1="333.5" x2="505.7" y2="334.5" stroke="#8a8a8a" stroke-width="0.6" />
<line x1="508.5" y1="333.5" x2="508.5" y2="334.5" stroke="#8a8a8a" stroke-width="0.6" />
<line x1="510.9" y1="333.5" x2="510.9" y2="334.5" stroke="#8a8a8a" stroke-width="0.6" />
<line x1="513.0" y1="333.5" x2="513.0" y2="334.5" stroke="#8a8a8a" stroke-width="0.6" />
<line x1="514.8" y1="333.5" x2="514.8" y2="334.5" stroke="#8a8a8a" stroke-width="0.6" />
<line x1="516.4" y1="333.5" x2="516.4" y2="335.5" stroke="#8a8a8a" stroke-width="0.8" />
<path d="M374.20,234.97 L374.70,234.43 L375.20,233.80 L375.70,233.38 L376.20,232.58 L376.70,232.34 L377.20,231.35 L377.70,230.35 L378.20,229.58 L378.70,228.62 L379.20,228.29 L379.70,226.95 L380.20,226.05 L380.70,224.57 L381.20,222.86 L381.70,222.92 L382.20,220.72 L382.70,220.39 L383.20,218.75 L383.70,215.97 L384.20,214.89 L384.70,213.66 L385.20,211.93 L385.70,209.86 L386.20,209.28 L386.70,206.56 L387.20,205.07 L387.70,202.43 L388.20,201.05 L388.70,198.01 L389.20,196.48 L389.70,196.07 L390.20,194.64 L390.70,193.24 L391.20,191.72 L391.70,192.32 L392.20,191.95 L392.70,190.88 L393.20,190.40 L393.70,192.30 L394.20,194.77 L394.70,192.99 L395.20,194.20 L395.70,194.74 L396.20,192.59 L396.70,195.51 L397.20,195.57 L397.70,198.43 L398.20,197.98 L398.70,198.53 L399.20,199.79 L399.70,200.85 L400.20,200.96 L400.70,202.11 L401.20,201.73 L401.70,203.33 L402.20,204.81 L402.70,206.42 L403.20,206.08 L403.70,206.41 L404.20,208.12 L404.70,209.00 L405.20,210.48 L405.70,211.05 L406.20,211.21 L406.70,212.55 L407.20,213.66 L407.70,214.91 L408.20,216.01 L408.70,216.57 L409.20,216.97 L409.70,218.90 L410.20,219.13 L410.70,221.29 L411.20,222.24 L411.70,222.37 L412.20,224.54 L412.70,225.35 L413.20,225.65 L413.70,227.02 L414.20,227.76 L414.70,227.13 L415.20,228.71 L415.70,229.12 L416.20,229.76 L416.70,230.58 L417.20,230.69 L417.70,231.40 L418.20,231.95 L418.70,232.36 L419.20,232.91 L419.70,232.98 L420.20,233.48 L420.70,234.20 L421.20,234.45 L421.70,234.91 L422.20,234.78 L422.70,235.02 L423.20,235.13 L423.70,235.28 L424.20,235.29 L424.70,235.53 L425.20,235.51 L425.70,235.59 L426.20,235.67 L426.70,235.82 L427.20,235.77 L427.70,236.00" fill="none" stroke="#1a1a1a" stroke-width="1.22" stroke-linejoin="round"/>
<line x1="427.7" y1="236.0" x2="516.4" y2="236.0" stroke="#999" stroke-width="0.9"/>
<path d="M374.60,283.60 L375.10,283.04 L375.60,282.51 L376.10,282.20 L376.60,281.93 L377.10,281.25 L377.60,280.00 L378.10,279.32 L378.60,277.88 L379.10,277.67 L379.60,275.78 L380.10,273.18 L380.60,274.33 L381.10,270.80 L381.60,267.01 L382.10,265.48 L382.60,262.17 L383.10,263.66 L383.60,259.73 L384.10,255.03 L384.60,255.85 L385.10,252.43 L385.60,253.28 L386.10,246.33 L386.60,241.85 L387.10,244.90 L387.60,243.63 L388.10,242.92 L388.60,239.77 L389.10,244.38 L389.60,246.88 L390.10,241.66 L390.60,247.05 L391.10,243.87 L391.60,247.49 L392.10,243.38 L392.60,241.34 L393.10,242.81 L393.60,243.07 L394.10,242.46 L394.60,245.73 L395.10,244.99 L395.60,243.30 L396.10,248.32 L396.60,243.54 L397.10,242.13 L397.60,242.64 L398.10,239.00 L398.60,238.83 L399.10,239.70 L399.60,239.17 L400.10,240.39 L400.60,245.45 L401.10,246.29 L401.60,249.25 L402.10,250.40 L402.60,248.91 L403.10,251.83 L403.60,250.59 L404.10,251.76 L404.60,249.12 L405.10,246.69 L405.60,242.78 L406.10,245.34 L406.60,245.56 L407.10,249.41 L407.60,249.75 L408.10,250.26 L408.60,253.94 L409.10,254.82 L409.60,254.19 L410.10,257.75 L410.60,255.80 L411.10,254.01 L411.60,252.85 L412.10,249.81 L412.60,248.49 L413.10,248.98 L413.60,252.02 L414.10,252.47 L414.60,250.40 L415.10,253.93 L415.60,253.54 L416.10,256.12 L416.60,258.76 L417.10,259.97 L417.60,263.80 L418.10,261.88 L418.60,260.90 L419.10,264.58 L419.60,263.33 L420.10,262.96 L420.60,259.32 L421.10,263.53 L421.60,262.84 L422.10,262.34 L422.60,262.08 L423.10,262.49 L423.60,260.68 L424.10,262.22 L424.60,260.51 L425.10,261.33 L425.60,263.35 L426.10,262.89 L426.60,261.06 L427.10,262.73 L427.60,261.76 L428.10,260.66 L428.60,261.85 L429.10,260.50 L429.60,258.73 L430.10,258.87 L430.60,261.72 L431.10,256.79 L431.60,258.25 L432.10,258.01 L432.60,258.13 L433.10,256.36 L433.60,258.20 L434.10,259.44 L434.60,260.92 L435.10,259.79 L435.60,259.82 L436.10,262.91 L436.60,263.36 L437.10,262.82 L437.60,262.00 L438.10,263.53 L438.60,263.52 L439.10,264.69 L439.60,262.93 L440.10,265.14 L440.60,265.51 L441.10,265.16 L441.60,267.25 L442.10,267.73 L442.60,267.95 L443.10,269.19 L443.60,267.77 L444.10,269.48 L444.60,270.32 L445.10,270.54 L445.60,271.65 L446.10,269.91 L446.60,270.01 L447.10,271.97 L447.60,272.45 L448.10,274.16 L448.60,273.08 L449.10,272.05 L449.60,273.73 L450.10,272.59 L450.60,272.32 L451.10,275.94 L451.60,274.31 L452.10,274.92 L452.60,275.17 L453.10,276.50 L453.60,275.71 L454.10,276.77 L454.60,275.52 L455.10,275.66 L455.60,277.99 L456.10,278.38 L456.60,278.09 L457.10,278.20 L457.60,278.47 L458.10,278.25 L458.60,279.87 L459.10,279.64 L459.60,279.85 L460.10,280.07 L460.60,280.71 L461.10,280.73 L461.60,281.13 L462.10,280.55 L462.60,281.52 L463.10,282.40 L463.60,281.42 L464.10,281.75 L464.60,282.31 L465.10,282.49 L465.60,282.52 L466.10,281.91 L466.60,282.80 L467.10,282.43 L467.60,282.73 L468.10,283.28 L468.60,283.23 L469.10,283.65 L469.60,284.23 L470.10,283.74 L470.60,283.77 L471.10,283.48 L471.60,283.58 L472.10,283.55 L472.60,283.70 L473.10,283.64 L473.60,283.76 L474.10,283.89 L474.60,283.79 L475.10,283.76 L475.60,283.81 L476.10,284.18 L476.60,284.15 L477.10,284.30 L477.60,284.30 L478.10,284.15 L478.60,284.30 L479.10,283.96 L479.60,284.30 L480.10,284.30 L480.60,284.20 L481.10,284.03 L481.60,284.30 L482.10,283.91 L482.60,284.12 L483.10,284.30 L483.60,284.28 L484.10,284.18 L484.60,284.30 L485.10,284.09 L485.60,284.30 L486.10,284.20 L486.60,284.14" fill="none" stroke="#1a1a1a" stroke-width="1.22" stroke-linejoin="round"/>
<line x1="487.0" y1="284.3" x2="516.4" y2="284.3" stroke="#999" stroke-width="0.9"/>
<path d="M373.80,332.84 L374.30,332.32 L374.80,332.31 L375.30,331.60 L375.80,331.64 L376.30,330.75 L376.80,330.69 L377.30,329.64 L377.80,328.83 L378.30,328.42 L378.80,327.80 L379.30,326.50 L379.80,326.46 L380.30,324.75 L380.80,323.72 L381.30,322.49 L381.80,321.26 L382.30,318.96 L382.80,318.73 L383.30,316.61 L383.80,314.47 L384.30,312.49 L384.80,310.45 L385.30,308.92 L385.80,308.29 L386.30,306.11 L386.80,303.96 L387.30,302.64 L387.80,302.27 L388.30,299.40 L388.80,297.55 L389.30,297.21 L389.80,295.12 L390.30,293.33 L390.80,291.37 L391.30,289.21 L391.80,288.02 L392.30,287.06 L392.80,289.05 L393.30,291.25 L393.80,293.19 L394.30,293.64 L394.80,294.33 L395.30,294.17 L395.80,294.80 L396.30,297.48 L396.80,298.77 L397.30,298.50 L397.80,297.78 L398.30,296.16 L398.80,295.69 L399.30,296.11 L399.80,295.99 L400.30,296.44 L400.80,299.01 L401.30,300.34 L401.80,300.26 L402.30,300.43 L402.80,301.11 L403.30,299.42 L403.80,300.85 L404.30,301.23 L404.80,302.20 L405.30,302.67 L405.80,306.26 L406.30,306.87 L406.80,307.66 L407.30,308.67 L407.80,310.12 L408.30,310.83 L408.80,311.71 L409.30,313.45 L409.80,313.44 L410.30,314.30 L410.80,316.17 L411.30,317.29 L411.80,318.62 L412.30,318.87 L412.80,320.93 L413.30,321.73 L413.80,323.07 L414.30,322.85 L414.80,324.24 L415.30,324.94 L415.80,325.42 L416.30,326.50 L416.80,327.53 L417.30,327.61 L417.80,328.07 L418.30,328.98 L418.80,329.51 L419.30,329.97 L419.80,329.89 L420.30,330.34 L420.80,330.84 L421.30,330.82 L421.80,331.11 L422.30,331.66 L422.80,332.05 L423.30,331.89 L423.80,331.81 L424.30,332.06 L424.80,332.23 L425.30,332.43 L425.80,332.62 L426.30,332.64 L426.80,332.69 L427.30,332.87 L427.80,332.88 L428.30,333.06" fill="none" stroke="#1a1a1a" stroke-width="1.22" stroke-linejoin="round"/>
<line x1="428.5" y1="333.5" x2="516.4" y2="333.5" stroke="#999" stroke-width="0.9"/>
<text x="471.4" y="214.6" font-size="10.0" text-anchor="start" fill="#1a1a1a" >A2t +</text>
<text x="471.4" y="227.4" font-size="10.0" text-anchor="start" fill="#1a1a1a" ><tspan font-family="Liberation Serif" font-style="italic">&#945;</tspan>-TLR4</text>
<text x="475.3" y="269.6" font-size="10.0" text-anchor="start" fill="#1a1a1a" >A2t</text>
<text x="475.3" y="320.5" font-size="10.0" text-anchor="start" fill="#1a1a1a" >untreated</text>
<text x="373.0" y="349.6" font-size="7.0" fill="#222" text-anchor="middle">10</text>
<text x="377.1" y="345.0" font-size="5.4" fill="#222">0</text>
<text x="408.6" y="349.6" font-size="7.0" fill="#222" text-anchor="middle">10</text>
<text x="412.7" y="345.0" font-size="5.4" fill="#222">1</text>
<text x="444.2" y="349.6" font-size="7.0" fill="#222" text-anchor="middle">10</text>
<text x="448.3" y="345.0" font-size="5.4" fill="#222">2</text>
<text x="479.8" y="349.6" font-size="7.0" fill="#222" text-anchor="middle">10</text>
<text x="483.9" y="345.0" font-size="5.4" fill="#222">3</text>
<rect x="373.3" y="358.2" width="143.7" height="146.2" fill="none" stroke="#8a8a8a" stroke-width="1.0" />
<line x1="373.3" y1="504.4" x2="517.0" y2="504.4" stroke="#666" stroke-width="1.3" />
<line x1="373.3" y1="504.4" x2="373.3" y2="506.4" stroke="#8a8a8a" stroke-width="0.8" />
<line x1="384.1" y1="504.4" x2="384.1" y2="505.4" stroke="#8a8a8a" stroke-width="0.6" />
<line x1="390.4" y1="504.4" x2="390.4" y2="505.4" stroke="#8a8a8a" stroke-width="0.6" />
<line x1="394.9" y1="504.4" x2="394.9" y2="505.4" stroke="#8a8a8a" stroke-width="0.6" />
<line x1="398.4" y1="504.4" x2="398.4" y2="505.4" stroke="#8a8a8a" stroke-width="0.6" />
<line x1="401.3" y1="504.4" x2="401.3" y2="505.4" stroke="#8a8a8a" stroke-width="0.6" />
<line x1="403.7" y1="504.4" x2="403.7" y2="505.4" stroke="#8a8a8a" stroke-width="0.6" />
<line x1="405.7" y1="504.4" x2="405.7" y2="505.4" stroke="#8a8a8a" stroke-width="0.6" />
<line x1="407.6" y1="504.4" x2="407.6" y2="505.4" stroke="#8a8a8a" stroke-width="0.6" />
<line x1="409.2" y1="504.4" x2="409.2" y2="506.4" stroke="#8a8a8a" stroke-width="0.8" />
<line x1="420.0" y1="504.4" x2="420.0" y2="505.4" stroke="#8a8a8a" stroke-width="0.6" />
<line x1="426.4" y1="504.4" x2="426.4" y2="505.4" stroke="#8a8a8a" stroke-width="0.6" />
<line x1="430.9" y1="504.4" x2="430.9" y2="505.4" stroke="#8a8a8a" stroke-width="0.6" />
<line x1="434.3" y1="504.4" x2="434.3" y2="505.4" stroke="#8a8a8a" stroke-width="0.6" />
<line x1="437.2" y1="504.4" x2="437.2" y2="505.4" stroke="#8a8a8a" stroke-width="0.6" />
<line x1="439.6" y1="504.4" x2="439.6" y2="505.4" stroke="#8a8a8a" stroke-width="0.6" />
<line x1="441.7" y1="504.4" x2="441.7" y2="505.4" stroke="#8a8a8a" stroke-width="0.6" />
<line x1="443.5" y1="504.4" x2="443.5" y2="505.4" stroke="#8a8a8a" stroke-width="0.6" />
<line x1="445.1" y1="504.4" x2="445.1" y2="506.4" stroke="#8a8a8a" stroke-width="0.8" />
<line x1="456.0" y1="504.4" x2="456.0" y2="505.4" stroke="#8a8a8a" stroke-width="0.6" />
<line x1="462.3" y1="504.4" x2="462.3" y2="505.4" stroke="#8a8a8a" stroke-width="0.6" />
<line x1="466.8" y1="504.4" x2="466.8" y2="505.4" stroke="#8a8a8a" stroke-width="0.6" />
<line x1="470.3" y1="504.4" x2="470.3" y2="505.4" stroke="#8a8a8a" stroke-width="0.6" />
<line x1="473.1" y1="504.4" x2="473.1" y2="505.4" stroke="#8a8a8a" stroke-width="0.6" />
<line x1="475.5" y1="504.4" x2="475.5" y2="505.4" stroke="#8a8a8a" stroke-width="0.6" />
<line x1="477.6" y1="504.4" x2="477.6" y2="505.4" stroke="#8a8a8a" stroke-width="0.6" />
<line x1="479.4" y1="504.4" x2="479.4" y2="505.4" stroke="#8a8a8a" stroke-width="0.6" />
<line x1="481.1" y1="504.4" x2="481.1" y2="506.4" stroke="#8a8a8a" stroke-width="0.8" />
<line x1="491.9" y1="504.4" x2="491.9" y2="505.4" stroke="#8a8a8a" stroke-width="0.6" />
<line x1="498.2" y1="504.4" x2="498.2" y2="505.4" stroke="#8a8a8a" stroke-width="0.6" />
<line x1="502.7" y1="504.4" x2="502.7" y2="505.4" stroke="#8a8a8a" stroke-width="0.6" />
<line x1="506.2" y1="504.4" x2="506.2" y2="505.4" stroke="#8a8a8a" stroke-width="0.6" />
<line x1="509.0" y1="504.4" x2="509.0" y2="505.4" stroke="#8a8a8a" stroke-width="0.6" />
<line x1="511.4" y1="504.4" x2="511.4" y2="505.4" stroke="#8a8a8a" stroke-width="0.6" />
<line x1="513.5" y1="504.4" x2="513.5" y2="505.4" stroke="#8a8a8a" stroke-width="0.6" />
<line x1="515.4" y1="504.4" x2="515.4" y2="505.4" stroke="#8a8a8a" stroke-width="0.6" />
<line x1="517.0" y1="504.4" x2="517.0" y2="506.4" stroke="#8a8a8a" stroke-width="0.8" />
<path d="M373.50,393.30 L374.00,393.41 L374.50,391.64 L375.00,390.09 L375.50,389.73 L376.00,389.74 L376.50,388.84 L377.00,389.07 L377.50,388.83 L378.00,389.51 L378.50,388.55 L379.00,387.14 L379.50,384.92 L380.00,383.17 L380.50,382.20 L381.00,380.09 L381.50,379.29 L382.00,375.62 L382.50,375.28 L383.00,372.97 L383.50,371.19 L384.00,367.45 L384.50,366.65 L385.00,367.24 L385.50,366.28 L386.00,363.03 L386.50,362.68 L387.00,361.18 L387.50,361.22 L388.00,360.85 L388.50,363.16 L389.00,362.87 L389.50,362.67 L390.00,363.08 L390.50,364.24 L391.00,363.68 L391.50,361.97 L392.00,364.92 L392.50,363.42 L393.00,363.61 L393.50,365.93 L394.00,365.86 L394.50,364.99 L395.00,366.25 L395.50,364.47 L396.00,365.14 L396.50,363.36 L397.00,367.68 L397.50,364.11 L398.00,367.34 L398.50,365.72 L399.00,365.72 L399.50,366.82 L400.00,367.54 L400.50,368.11 L401.00,369.51 L401.50,367.68 L402.00,368.12 L402.50,366.21 L403.00,367.59 L403.50,366.75 L404.00,366.57 L404.50,368.03 L405.00,369.10 L405.50,370.41 L406.00,370.97 L406.50,370.12 L407.00,370.02 L407.50,371.81 L408.00,369.30 L408.50,370.63 L409.00,373.33 L409.50,369.12 L410.00,371.64 L410.50,373.45 L411.00,371.36 L411.50,376.19 L412.00,371.33 L412.50,375.92 L413.00,376.52 L413.50,376.35 L414.00,375.71 L414.50,376.76 L415.00,376.05 L415.50,378.17 L416.00,376.88 L416.50,378.18 L417.00,379.84 L417.50,378.48 L418.00,379.66 L418.50,380.63 L419.00,379.87 L419.50,382.21 L420.00,381.77 L420.50,380.49 L421.00,381.94 L421.50,381.59 L422.00,381.94 L422.50,382.77 L423.00,382.36 L423.50,383.76 L424.00,382.56 L424.50,383.96 L425.00,383.26 L425.50,384.04 L426.00,383.07 L426.50,383.19 L427.00,382.79 L427.50,384.20 L428.00,384.66 L428.50,385.79 L429.00,385.43 L429.50,384.93 L430.00,384.86 L430.50,385.55 L431.00,385.52 L431.50,386.80 L432.00,386.54 L432.50,385.42 L433.00,385.62 L433.50,387.09 L434.00,386.47 L434.50,386.21 L435.00,387.24 L435.50,386.29 L436.00,386.46 L436.50,386.55 L437.00,385.98 L437.50,388.13 L438.00,387.23 L438.50,388.00 L439.00,388.28 L439.50,389.48 L440.00,389.41 L440.50,389.69 L441.00,388.93 L441.50,389.90 L442.00,389.32 L442.50,390.36 L443.00,390.52 L443.50,390.46 L444.00,391.59 L444.50,391.05 L445.00,391.27 L445.50,391.26 L446.00,391.31 L446.50,392.01 L447.00,392.25 L447.50,391.45 L448.00,392.60 L448.50,392.58 L449.00,392.89 L449.50,392.79 L450.00,392.25 L450.50,392.37 L451.00,393.52 L451.50,393.05 L452.00,392.57 L452.50,393.25 L453.00,393.11 L453.50,392.72 L454.00,392.68 L454.50,392.99 L455.00,393.64 L455.50,393.63 L456.00,393.65 L456.50,393.87 L457.00,394.04 L457.50,393.39 L458.00,393.95 L458.50,393.90 L459.00,393.88 L459.50,394.13 L460.00,394.31 L460.50,394.35 L461.00,394.15 L461.50,394.41 L462.00,394.97 L462.50,394.41 L463.00,394.35 L463.50,394.77 L464.00,394.88 L464.50,394.90 L465.00,394.70 L465.50,395.08 L466.00,394.86" fill="none" stroke="#1a1a1a" stroke-width="1.22" stroke-linejoin="round"/>
<line x1="466.2" y1="395.4" x2="517.0" y2="395.4" stroke="#999" stroke-width="0.9"/>
<path d="M373.40,430.06 L373.90,430.22 L374.40,430.37 L374.90,430.61 L375.40,430.59 L375.90,430.39 L376.40,430.65 L376.90,430.30 L377.40,430.48 L377.90,429.64 L378.40,429.49 L378.90,430.20 L379.40,429.35 L379.90,429.65 L380.40,429.63 L380.90,429.29 L381.40,428.64 L381.90,428.87 L382.40,426.26 L382.90,427.43 L383.40,427.67 L383.90,425.61 L384.40,424.59 L384.90,424.13 L385.40,424.00 L385.90,420.64 L386.40,420.67 L386.90,419.44 L387.40,419.37 L387.90,418.27 L388.40,418.01 L388.90,416.22 L389.40,415.94 L389.90,414.46 L390.40,413.71 L390.90,413.51 L391.40,412.77 L391.90,410.87 L392.40,413.23 L392.90,410.54 L393.40,408.40 L393.90,410.75 L394.40,407.92 L394.90,408.85 L395.40,407.59 L395.90,407.33 L396.40,406.62 L396.90,405.06 L397.40,405.65 L397.90,408.03 L398.40,402.26 L398.90,405.07 L399.40,405.35 L399.90,403.18 L400.40,402.55 L400.90,406.88 L401.40,402.48 L401.90,404.84 L402.40,401.70 L402.90,400.04 L403.40,399.60 L403.90,399.08 L404.40,400.12 L404.90,399.27 L405.40,399.08 L405.90,399.37 L406.40,401.31 L406.90,400.77 L407.40,398.16 L407.90,398.69 L408.40,400.07 L408.90,398.71 L409.40,399.06 L409.90,398.23 L410.40,398.96 L410.90,399.63 L411.40,400.14 L411.90,398.37 L412.40,401.34 L412.90,399.19 L413.40,404.83 L413.90,402.70 L414.40,402.98 L414.90,402.17 L415.40,399.26 L415.90,403.12 L416.40,403.81 L416.90,406.39 L417.40,402.22 L417.90,406.87 L418.40,404.39 L418.90,406.04 L419.40,402.16 L419.90,406.01 L420.40,405.76 L420.90,407.42 L421.40,406.94 L421.90,405.65 L422.40,408.54 L422.90,408.48 L423.40,408.62 L423.90,409.27 L424.40,409.02 L424.90,407.26 L425.40,405.20 L425.90,404.78 L426.40,407.90 L426.90,406.72 L427.40,405.80 L427.90,404.98 L428.40,405.45 L428.90,405.32 L429.40,404.72 L429.90,404.11 L430.40,407.32 L430.90,404.09 L431.40,402.29 L431.90,400.65 L432.40,401.07 L432.90,403.90 L433.40,404.78 L433.90,404.33 L434.40,405.53 L434.90,406.00 L435.40,405.99 L435.90,409.95 L436.40,409.79 L436.90,413.23 L437.40,410.44 L437.90,412.04 L438.40,413.91 L438.90,413.42 L439.40,412.96 L439.90,414.19 L440.40,416.01 L440.90,416.94 L441.40,417.03 L441.90,418.59 L442.40,419.08 L442.90,418.97 L443.40,419.21 L443.90,419.45 L444.40,420.52 L444.90,421.20 L445.40,420.84 L445.90,421.53 L446.40,421.27 L446.90,420.78 L447.40,421.42 L447.90,423.11 L448.40,423.16 L448.90,424.32 L449.40,423.48 L449.90,424.37 L450.40,424.99 L450.90,425.06 L451.40,424.35 L451.90,425.02 L452.40,425.60 L452.90,425.29 L453.40,426.56 L453.90,427.25 L454.40,426.77 L454.90,428.46 L455.40,427.65 L455.90,427.89 L456.40,428.06 L456.90,428.04 L457.40,428.75 L457.90,428.76 L458.40,429.65 L458.90,429.38 L459.40,429.53 L459.90,429.42 L460.40,429.18 L460.90,429.85 L461.40,429.74 L461.90,430.42 L462.40,430.17 L462.90,430.78 L463.40,430.56 L463.90,430.65 L464.40,430.55 L464.90,430.61 L465.40,430.81 L465.90,430.95 L466.40,430.60 L466.90,430.98 L467.40,431.55 L467.90,430.98 L468.40,431.03 L468.90,431.01 L469.40,430.93 L469.90,431.46 L470.40,431.26 L470.90,431.33 L471.40,431.63 L471.90,431.77 L472.40,431.18 L472.90,431.55 L473.40,431.49 L473.90,431.47 L474.40,431.51 L474.90,431.44 L475.40,431.75 L475.90,431.60 L476.40,431.57 L476.90,431.76 L477.40,431.71 L477.90,431.66 L478.40,431.66 L478.90,431.80 L479.40,431.73 L479.90,431.65 L480.40,431.53" fill="none" stroke="#1a1a1a" stroke-width="1.22" stroke-linejoin="round"/>
<line x1="480.8" y1="431.8" x2="517.0" y2="431.8" stroke="#999" stroke-width="0.9"/>
<path d="M374.20,467.14 L374.70,466.76 L375.20,466.77 L375.70,466.58 L376.20,465.68 L376.70,466.06 L377.20,466.04 L377.70,465.65 L378.20,465.00 L378.70,465.64 L379.20,464.61 L379.70,464.12 L380.20,463.91 L380.70,464.14 L381.20,464.38 L381.70,464.24 L382.20,463.51 L382.70,462.51 L383.20,462.54 L383.70,462.15 L384.20,462.23 L384.70,460.95 L385.20,461.75 L385.70,461.76 L386.20,460.93 L386.70,461.00 L387.20,459.73 L387.70,458.75 L388.20,458.65 L388.70,459.35 L389.20,458.62 L389.70,456.77 L390.20,457.50 L390.70,455.55 L391.20,456.51 L391.70,454.93 L392.20,453.38 L392.70,453.90 L393.20,451.69 L393.70,450.84 L394.20,449.61 L394.70,450.87 L395.20,450.04 L395.70,449.52 L396.20,448.65 L396.70,450.19 L397.20,447.63 L397.70,446.78 L398.20,448.69 L398.70,448.58 L399.20,447.01 L399.70,444.25 L400.20,445.25 L400.70,446.36 L401.20,445.32 L401.70,446.83 L402.20,442.97 L402.70,445.11 L403.20,443.18 L403.70,445.25 L404.20,443.18 L404.70,444.26 L405.20,441.98 L405.70,440.84 L406.20,441.04 L406.70,441.51 L407.20,440.80 L407.70,443.48 L408.20,443.46 L408.70,441.75 L409.20,439.71 L409.70,440.56 L410.20,439.47 L410.70,441.97 L411.20,440.13 L411.70,440.22 L412.20,439.21 L412.70,437.23 L413.20,439.06 L413.70,438.78 L414.20,440.91 L414.70,440.72 L415.20,439.44 L415.70,439.48 L416.20,441.60 L416.70,437.70 L417.20,437.25 L417.70,437.69 L418.20,436.53 L418.70,436.67 L419.20,438.19 L419.70,440.02 L420.20,435.34 L420.70,437.95 L421.20,438.21 L421.70,438.21 L422.20,437.95 L422.70,437.40 L423.20,438.94 L423.70,436.57 L424.20,436.71 L424.70,436.56 L425.20,436.38 L425.70,435.65 L426.20,436.99 L426.70,435.21 L427.20,435.13 L427.70,434.47 L428.20,432.74 L428.70,432.65 L429.20,432.65 L429.70,434.94 L430.20,434.11 L430.70,434.10 L431.20,436.44 L431.70,437.01 L432.20,433.94 L432.70,438.97 L433.20,436.79 L433.70,436.76 L434.20,438.56 L434.70,437.40 L435.20,436.97 L435.70,441.31 L436.20,437.34 L436.70,439.17 L437.20,440.93 L437.70,438.89 L438.20,440.72 L438.70,442.11 L439.20,445.43 L439.70,442.02 L440.20,443.84 L440.70,445.50 L441.20,445.64 L441.70,444.98 L442.20,447.68 L442.70,448.18 L443.20,449.38 L443.70,450.94 L444.20,451.36 L444.70,451.20 L445.20,451.59 L445.70,450.65 L446.20,452.12 L446.70,452.95 L447.20,452.84 L447.70,453.81 L448.20,453.44 L448.70,456.05 L449.20,456.96 L449.70,455.07 L450.20,456.14 L450.70,455.97 L451.20,457.62 L451.70,457.29 L452.20,457.38 L452.70,457.52 L453.20,458.17 L453.70,457.69 L454.20,459.34 L454.70,458.69 L455.20,459.98 L455.70,460.07 L456.20,461.10 L456.70,460.73 L457.20,461.78 L457.70,460.92 L458.20,462.12 L458.70,461.87 L459.20,462.36 L459.70,462.54 L460.20,463.27 L460.70,461.90 L461.20,463.42 L461.70,462.73 L462.20,464.35 L462.70,463.01 L463.20,463.69 L463.70,463.59 L464.20,465.28 L464.70,464.20 L465.20,465.00 L465.70,464.94 L466.20,464.66 L466.70,465.42 L467.20,465.97 L467.70,465.88 L468.20,466.40 L468.70,466.07 L469.20,466.25 L469.70,466.21 L470.20,466.48 L470.70,466.97 L471.20,466.62 L471.70,466.64 L472.20,466.50 L472.70,466.55 L473.20,467.13 L473.70,466.62 L474.20,466.74 L474.70,466.98 L475.20,466.99 L475.70,467.48 L476.20,466.78 L476.70,467.29 L477.20,467.37 L477.70,467.06 L478.20,467.17 L478.70,467.39 L479.20,467.60 L479.70,467.19 L480.20,467.09 L480.70,467.57 L481.20,467.60 L481.70,467.38 L482.20,467.06 L482.70,467.60 L483.20,467.47 L483.70,467.60 L484.20,467.54 L484.70,467.50 L485.20,467.51" fill="none" stroke="#1a1a1a" stroke-width="1.22" stroke-linejoin="round"/>
<line x1="485.4" y1="467.6" x2="517.0" y2="467.6" stroke="#999" stroke-width="0.9"/>
<path d="M373.40,503.65 L373.90,503.35 L374.40,502.55 L374.90,502.37 L375.40,502.48 L375.90,501.79 L376.40,501.27 L376.90,501.20 L377.40,500.79 L377.90,500.41 L378.40,499.94 L378.90,499.59 L379.40,499.16 L379.90,498.98 L380.40,498.29 L380.90,497.88 L381.40,496.75 L381.90,496.05 L382.40,494.57 L382.90,493.23 L383.40,492.30 L383.90,491.09 L384.40,490.21 L384.90,488.80 L385.40,488.22 L385.90,486.54 L386.40,484.38 L386.90,482.69 L387.40,481.87 L387.90,480.24 L388.40,478.56 L388.90,476.41 L389.40,474.84 L389.90,474.78 L390.40,473.76 L390.90,472.53 L391.40,469.93 L391.90,472.11 L392.40,472.30 L392.90,474.06 L393.40,475.01 L393.90,475.05 L394.40,475.95 L394.90,475.54 L395.40,476.47 L395.90,476.21 L396.40,477.55 L396.90,477.06 L397.40,477.29 L397.90,477.02 L398.40,476.98 L398.90,478.08 L399.40,478.07 L399.90,478.85 L400.40,478.90 L400.90,478.46 L401.40,479.54 L401.90,480.10 L402.40,480.38 L402.90,481.26 L403.40,481.93 L403.90,481.17 L404.40,481.99 L404.90,481.84 L405.40,483.74 L405.90,484.40 L406.40,484.46 L406.90,486.64 L407.40,487.77 L407.90,488.18 L408.40,489.34 L408.90,489.96 L409.40,491.49 L409.90,491.42 L410.40,492.72 L410.90,494.34 L411.40,494.33 L411.90,495.14 L412.40,495.61 L412.90,495.96 L413.40,496.89 L413.90,497.52 L414.40,497.61 L414.90,498.49 L415.40,499.22 L415.90,499.66 L416.40,499.48 L416.90,500.02 L417.40,500.27 L417.90,501.22 L418.40,501.50 L418.90,501.90 L419.40,501.93 L419.90,502.08 L420.40,502.47 L420.90,502.67 L421.40,502.73 L421.90,503.06 L422.40,503.31 L422.90,503.45 L423.40,503.44 L423.90,503.41 L424.40,503.67 L424.90,503.78 L425.40,503.82 L425.90,503.88 L426.40,503.93 L426.90,504.12 L427.40,504.13 L427.90,504.22 L428.40,504.21" fill="none" stroke="#1a1a1a" stroke-width="1.22" stroke-linejoin="round"/>
<line x1="428.5" y1="504.4" x2="517.0" y2="504.4" stroke="#999" stroke-width="0.9"/>
<text x="455.2" y="377.0" font-size="9.8" text-anchor="start" fill="#1a1a1a" >Pam3CSK4 +</text>
<text x="464.8" y="388.3" font-size="10.0" text-anchor="start" fill="#1a1a1a" ><tspan font-family="Liberation Serif" font-style="italic">&#945;</tspan>-TLR2</text>
<text x="455.2" y="414.6" font-size="9.8" text-anchor="start" fill="#1a1a1a" >Pam3CSK4 +</text>
<text x="464.8" y="427.0" font-size="10.0" text-anchor="start" fill="#1a1a1a" ><tspan font-family="Liberation Serif" font-style="italic">&#945;</tspan>-TLR4</text>
<text x="455.7" y="455.4" font-size="9.4" text-anchor="start" fill="#1a1a1a" >Pam3CSK4</text>
<text x="454.8" y="488.4" font-size="9.7" text-anchor="start" fill="#1a1a1a" >untreated</text>
<text x="372.3" y="520.5" font-size="7.0" fill="#222" text-anchor="middle">10</text>
<text x="376.4" y="515.9" font-size="5.4" fill="#222">0</text>
<text x="408.2" y="520.5" font-size="7.0" fill="#222" text-anchor="middle">10</text>
<text x="412.3" y="515.9" font-size="5.4" fill="#222">1</text>
<text x="444.1" y="520.5" font-size="7.0" fill="#222" text-anchor="middle">10</text>
<text x="448.2" y="515.9" font-size="5.4" fill="#222">2</text>
<text x="480.0" y="520.5" font-size="7.0" fill="#222" text-anchor="middle">10</text>
<text x="484.1" y="515.9" font-size="5.4" fill="#222">3</text>
<text x="444.8" y="539.2" font-size="9.9" font-weight="bold" text-anchor="middle" fill="#1a1a1a" >PE-<tspan font-family="Liberation Serif" font-style="italic">&#945;</tspan>-TNF-<tspan font-family="Liberation Serif" font-style="italic">&#945;</tspan></text>
<rect x="24.4" y="447.0" width="150.8" height="69.5" fill="none" stroke="#aaa" stroke-width="0.8" />
<line x1="24.4" y1="447.0" x2="24.4" y2="516.5" stroke="#999" stroke-width="0.8" />
<line x1="24.4" y1="516.5" x2="175.2" y2="516.5" stroke="#999" stroke-width="0.8" />
<line x1="23.4" y1="516.5" x2="24.4" y2="516.5" stroke="#bbb" stroke-width="0.6" />
<text x="22.3" y="518.2" font-size="4.6" text-anchor="end" fill="#333" >0</text>
<line x1="23.4" y1="508.8" x2="24.4" y2="508.8" stroke="#bbb" stroke-width="0.6" />
<text x="22.3" y="510.5" font-size="4.6" text-anchor="end" fill="#333" >200</text>
<line x1="23.4" y1="501.1" x2="24.4" y2="501.1" stroke="#bbb" stroke-width="0.6" />
<text x="22.3" y="502.8" font-size="4.6" text-anchor="end" fill="#333" >400</text>
<line x1="23.4" y1="493.3" x2="24.4" y2="493.3" stroke="#bbb" stroke-width="0.6" />
<text x="22.3" y="495.0" font-size="4.6" text-anchor="end" fill="#333" >600</text>
<line x1="23.4" y1="485.6" x2="24.4" y2="485.6" stroke="#bbb" stroke-width="0.6" />
<text x="22.3" y="487.3" font-size="4.6" text-anchor="end" fill="#333" >800</text>
<line x1="23.4" y1="477.9" x2="24.4" y2="477.9" stroke="#bbb" stroke-width="0.6" />
<text x="22.3" y="479.6" font-size="4.6" text-anchor="end" fill="#333" >1000</text>
<line x1="23.4" y1="470.2" x2="24.4" y2="470.2" stroke="#bbb" stroke-width="0.6" />
<text x="22.3" y="471.9" font-size="4.6" text-anchor="end" fill="#333" >1200</text>
<line x1="23.4" y1="462.4" x2="24.4" y2="462.4" stroke="#bbb" stroke-width="0.6" />
<text x="22.3" y="464.1" font-size="4.6" text-anchor="end" fill="#333" >1400</text>
<line x1="23.4" y1="454.7" x2="24.4" y2="454.7" stroke="#bbb" stroke-width="0.6" />
<text x="22.3" y="456.4" font-size="4.6" text-anchor="end" fill="#333" >1600</text>
<line x1="23.4" y1="447.0" x2="24.4" y2="447.0" stroke="#bbb" stroke-width="0.6" />
<text x="22.3" y="448.7" font-size="4.6" text-anchor="end" fill="#333" >1800</text>
<rect x="27.9" y="516.3" width="7.7" height="0.2" fill="#0a0a0a"/>
<line x1="53.9" y1="466.7" x2="53.9" y2="459.4" stroke="#333" stroke-width="0.8" />
<line x1="52.4" y1="459.4" x2="55.4" y2="459.4" stroke="#333" stroke-width="0.8" />
<rect x="50.0" y="466.7" width="7.7" height="49.8" fill="#0a0a0a"/>
<line x1="72.1" y1="469.8" x2="72.1" y2="465.9" stroke="#333" stroke-width="0.8" />
<line x1="70.6" y1="465.9" x2="73.6" y2="465.9" stroke="#333" stroke-width="0.8" />
<rect x="68.3" y="469.8" width="7.7" height="46.7" fill="#0a0a0a"/>
<line x1="91.8" y1="462.8" x2="91.8" y2="456.7" stroke="#333" stroke-width="0.8" />
<line x1="90.3" y1="456.7" x2="93.3" y2="456.7" stroke="#333" stroke-width="0.8" />
<rect x="88.0" y="462.8" width="7.7" height="53.7" fill="#0a0a0a"/>
<rect x="106.3" y="516.4" width="7.7" height="0.1" fill="#0a0a0a"/>
<rect x="124.6" y="516.4" width="7.7" height="0.1" fill="#0a0a0a"/>
<rect x="143.8" y="516.4" width="7.7" height="0.1" fill="#0a0a0a"/>
<line x1="166.5" y1="473.3" x2="166.5" y2="471.3" stroke="#333" stroke-width="0.8" />
<line x1="165.0" y1="471.3" x2="168.0" y2="471.3" stroke="#333" stroke-width="0.8" />
<rect x="162.7" y="473.3" width="7.7" height="43.2" fill="#0a0a0a"/>
<text x="31.8" y="520.0" font-size="3.6" text-anchor="middle" fill="#555" >WT, unt</text>
<text x="53.9" y="520.0" font-size="3.6" text-anchor="middle" fill="#555" >WT, A2t</text>
<text x="72.1" y="520.0" font-size="3.6" text-anchor="middle" fill="#555" >WT, LPS</text>
<text x="91.8" y="520.0" font-size="3.6" text-anchor="middle" fill="#555" >WT,</text>
<text x="91.8" y="525.5" font-size="3.6" text-anchor="middle" fill="#555" >Pam3CSK4</text>
<text x="110.1" y="520.0" font-size="3.6" text-anchor="middle" fill="#555" >TLR4-/-,</text>
<text x="110.1" y="525.5" font-size="3.6" text-anchor="middle" fill="#555" >unt</text>
<text x="128.4" y="520.0" font-size="3.6" text-anchor="middle" fill="#555" >TLR4-/-,</text>
<text x="128.4" y="525.5" font-size="3.6" text-anchor="middle" fill="#555" >A2t</text>
<text x="147.7" y="520.0" font-size="3.6" text-anchor="middle" fill="#555" >TLR4-/-,</text>
<text x="147.7" y="525.5" font-size="3.6" text-anchor="middle" fill="#555" >LPS</text>
<text x="166.5" y="520.0" font-size="3.6" text-anchor="middle" fill="#555" >WT,</text>
<text x="166.5" y="525.5" font-size="3.6" text-anchor="middle" fill="#555" >Pam3CSK4</text>
<text x="0.0" y="0.0" font-size="8.9" font-weight="bold" text-anchor="middle" fill="#111" transform="translate(7.7,476.8) rotate(-90)">TNF-<tspan font-family="Liberation Serif" font-style="italic">&#945;</tspan>, pg/mL</text>
<rect x="214.2" y="456.3" width="143.7" height="59.7" fill="none" stroke="#aaa" stroke-width="0.8" />
<line x1="214.2" y1="456.3" x2="214.2" y2="516.0" stroke="#999" stroke-width="0.8" />
<line x1="214.2" y1="516.0" x2="357.9" y2="516.0" stroke="#999" stroke-width="0.8" />
<line x1="213.2" y1="516.0" x2="214.2" y2="516.0" stroke="#bbb" stroke-width="0.6" />
<text x="211.0" y="517.7" font-size="4.6" text-anchor="end" fill="#333" >0</text>
<line x1="213.2" y1="510.0" x2="214.2" y2="510.0" stroke="#bbb" stroke-width="0.6" />
<text x="211.0" y="511.7" font-size="4.6" text-anchor="end" fill="#333" >2000</text>
<line x1="213.2" y1="504.1" x2="214.2" y2="504.1" stroke="#bbb" stroke-width="0.6" />
<text x="211.0" y="505.8" font-size="4.6" text-anchor="end" fill="#333" >4000</text>
<line x1="213.2" y1="498.1" x2="214.2" y2="498.1" stroke="#bbb" stroke-width="0.6" />
<text x="211.0" y="499.8" font-size="4.6" text-anchor="end" fill="#333" >6000</text>
<line x1="213.2" y1="492.1" x2="214.2" y2="492.1" stroke="#bbb" stroke-width="0.6" />
<text x="211.0" y="493.8" font-size="4.6" text-anchor="end" fill="#333" >8000</text>
<line x1="213.2" y1="486.1" x2="214.2" y2="486.1" stroke="#bbb" stroke-width="0.6" />
<text x="211.0" y="487.8" font-size="4.6" text-anchor="end" fill="#333" >10000</text>
<line x1="213.2" y1="480.2" x2="214.2" y2="480.2" stroke="#bbb" stroke-width="0.6" />
<text x="211.0" y="481.9" font-size="4.6" text-anchor="end" fill="#333" >12000</text>
<line x1="213.2" y1="474.2" x2="214.2" y2="474.2" stroke="#bbb" stroke-width="0.6" />
<text x="211.0" y="475.9" font-size="4.6" text-anchor="end" fill="#333" >14000</text>
<line x1="213.2" y1="468.2" x2="214.2" y2="468.2" stroke="#bbb" stroke-width="0.6" />
<text x="211.0" y="469.9" font-size="4.6" text-anchor="end" fill="#333" >16000</text>
<line x1="213.2" y1="462.3" x2="214.2" y2="462.3" stroke="#bbb" stroke-width="0.6" />
<text x="211.0" y="464.0" font-size="4.6" text-anchor="end" fill="#333" >18000</text>
<line x1="213.2" y1="456.3" x2="214.2" y2="456.3" stroke="#bbb" stroke-width="0.6" />
<text x="211.0" y="458.0" font-size="4.6" text-anchor="end" fill="#333" >20000</text>
<rect x="219.0" y="515.9" width="7.7" height="0.1" fill="#333"/>
<rect x="237.3" y="515.0" width="7.7" height="1.0" fill="#333"/>
<line x1="258.9" y1="480.2" x2="258.9" y2="473.6" stroke="#666" stroke-width="0.8" />
<line x1="257.4" y1="473.6" x2="260.4" y2="473.6" stroke="#666" stroke-width="0.8" />
<rect x="255.0" y="480.2" width="7.7" height="35.8" fill="#333"/>
<line x1="276.8" y1="469.1" x2="276.8" y2="466.7" stroke="#666" stroke-width="0.8" />
<line x1="275.2" y1="466.7" x2="278.2" y2="466.7" stroke="#666" stroke-width="0.8" />
<rect x="272.9" y="469.1" width="7.7" height="46.9" fill="#333"/>
<line x1="347.9" y1="470.3" x2="347.9" y2="464.7" stroke="#666" stroke-width="0.8" />
<line x1="346.4" y1="464.7" x2="349.4" y2="464.7" stroke="#666" stroke-width="0.8" />
<rect x="344.0" y="470.3" width="7.7" height="45.7" fill="#333"/>
<text x="0.0" y="0.0" font-size="3.8" text-anchor="end" fill="#666" transform="translate(224.5,519.5) rotate(-45)">WT, unt</text>
<text x="0.0" y="0.0" font-size="3.8" text-anchor="end" fill="#666" transform="translate(242.8,519.5) rotate(-45)">WT, A2t</text>
<text x="0.0" y="0.0" font-size="3.8" text-anchor="end" fill="#666" transform="translate(260.5,519.5) rotate(-45)">WT, LPS</text>
<text x="0.0" y="0.0" font-size="3.8" text-anchor="end" fill="#666" transform="translate(278.4,519.5) rotate(-45)">WT, Pam3CSK4</text>
<text x="0.0" y="0.0" font-size="3.8" text-anchor="end" fill="#666" transform="translate(295.5,519.5) rotate(-45)">TLR4-/-, unt</text>
<text x="0.0" y="0.0" font-size="3.8" text-anchor="end" fill="#666" transform="translate(313.5,519.5) rotate(-45)">TLR4-/-, A2t</text>
<text x="0.0" y="0.0" font-size="3.8" text-anchor="end" fill="#666" transform="translate(331.5,519.5) rotate(-45)">TLR4-/-, LPS</text>
<text x="0.0" y="0.0" font-size="3.8" text-anchor="end" fill="#666" transform="translate(349.5,519.5) rotate(-45)">hu-/-, Pam3CSK4</text>
<text x="0.0" y="0.0" font-size="8.8" font-weight="bold" text-anchor="middle" fill="#111" transform="translate(193.2,487.7) rotate(-90)">IL-6, pg/mL</text>
</svg></body></html>
